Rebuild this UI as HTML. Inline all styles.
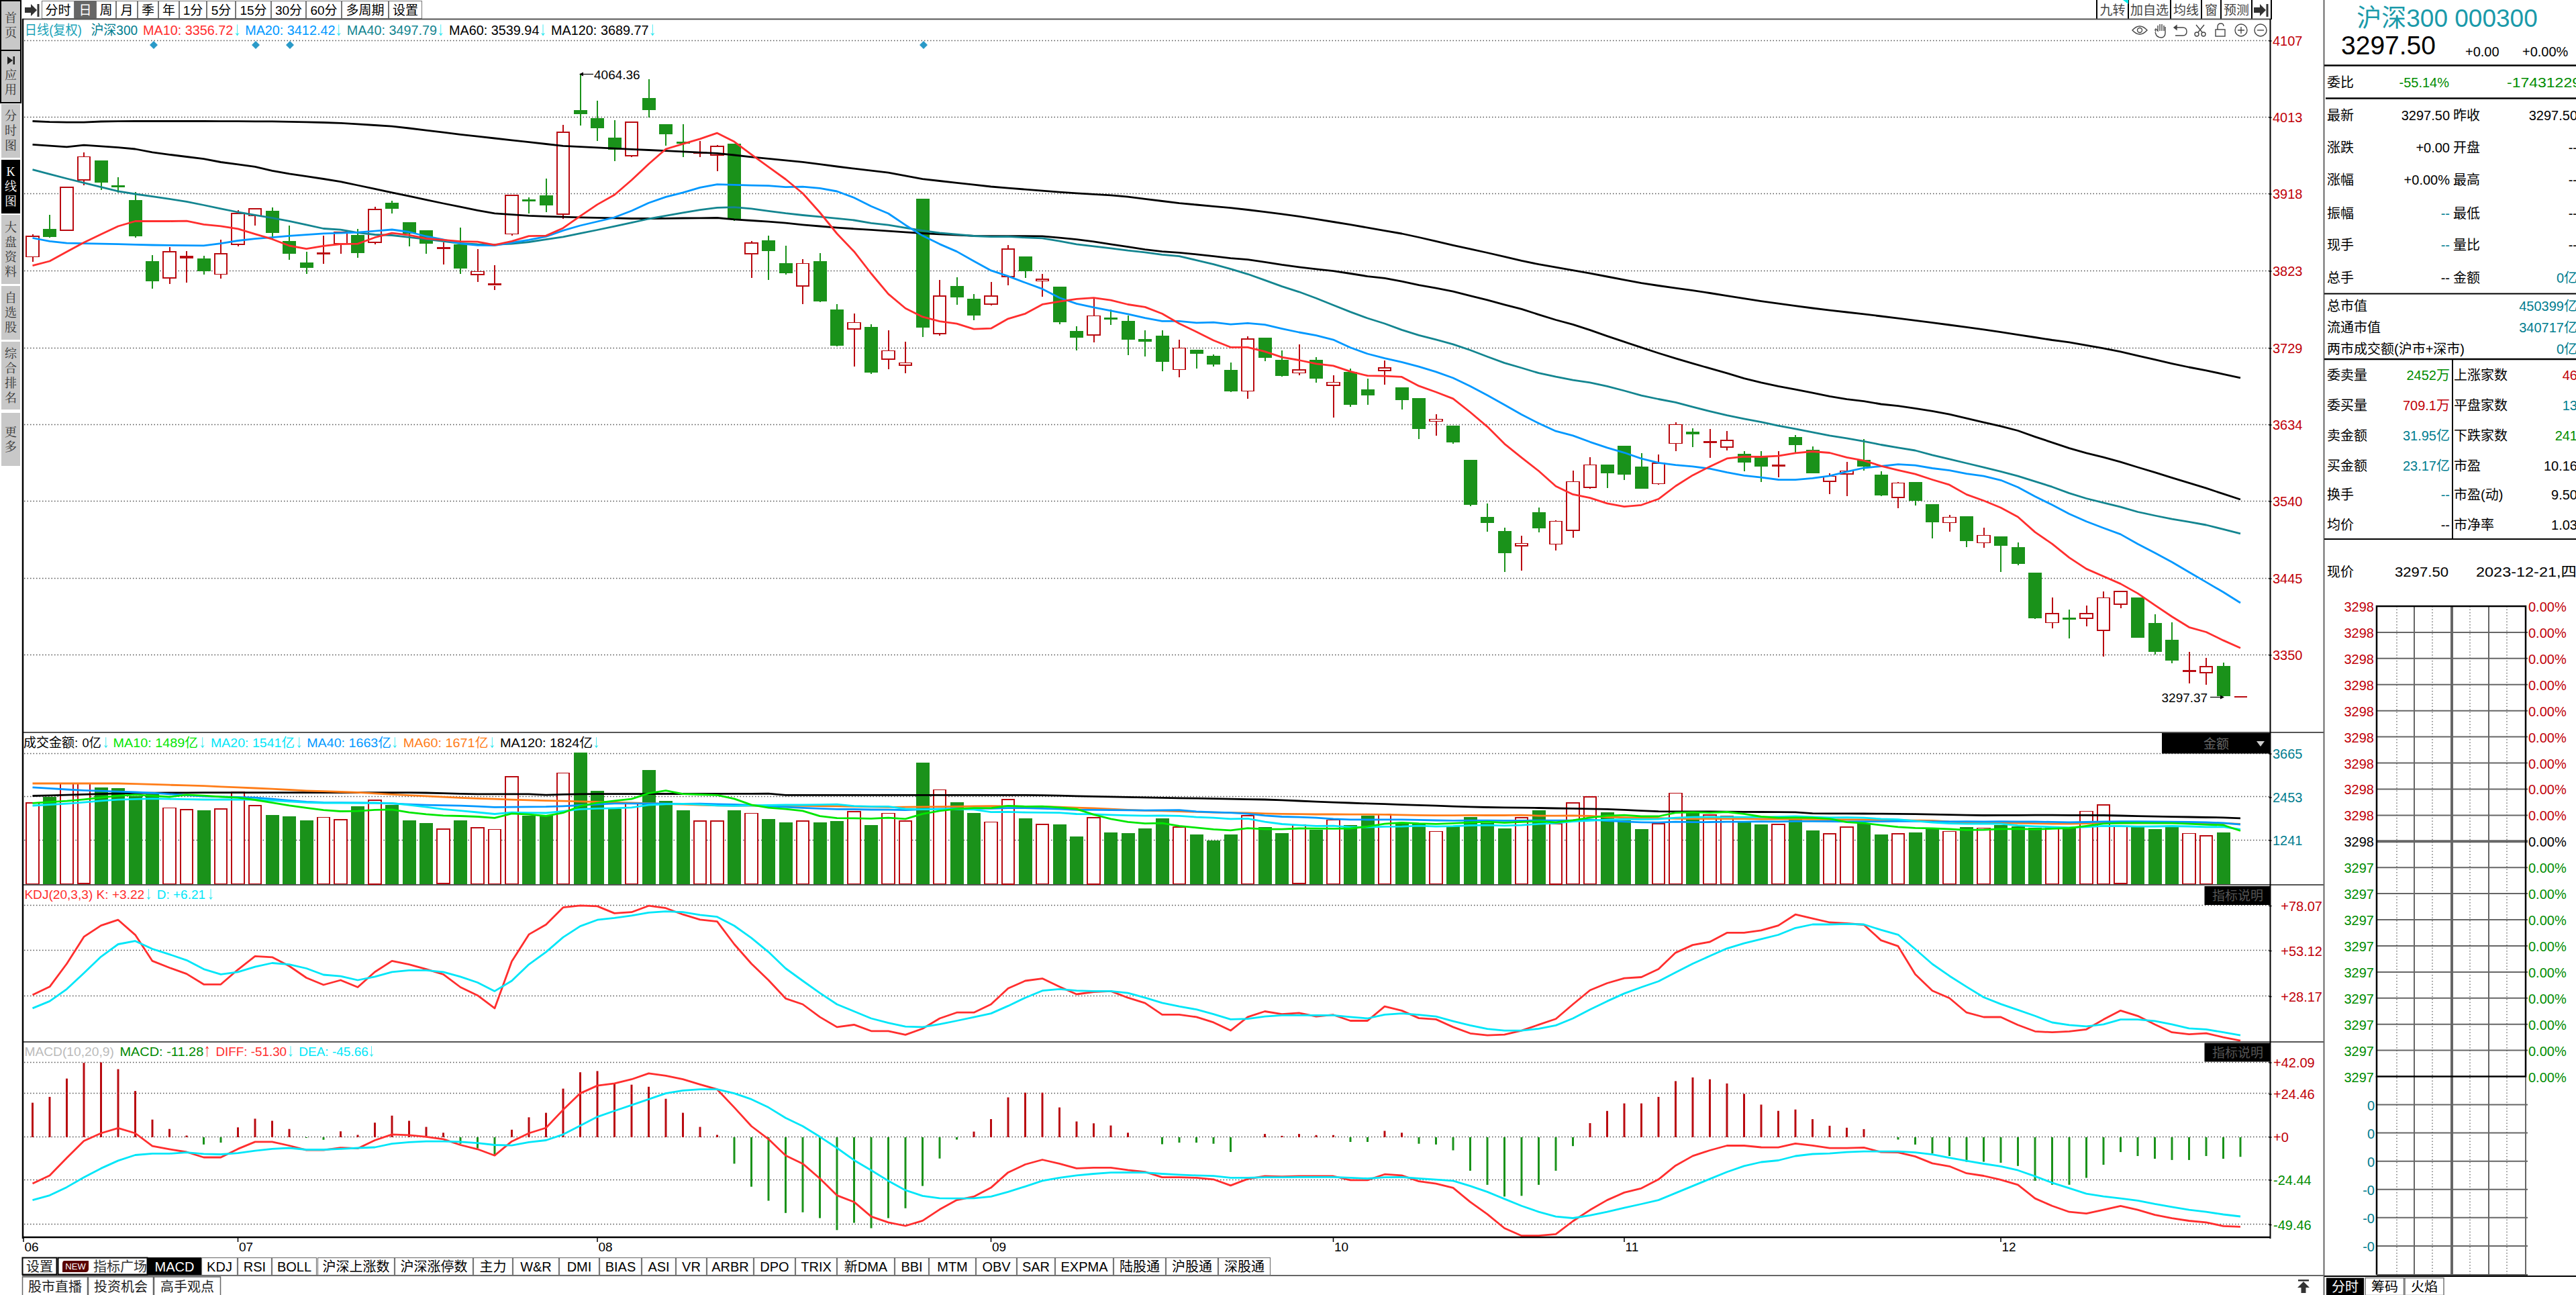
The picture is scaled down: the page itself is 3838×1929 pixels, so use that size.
<!DOCTYPE html><html><head><meta charset="utf-8"><title>沪深300 K线图</title><style>html,body{margin:0;padding:0;background:#fff;}body{width:3838px;height:1929px;overflow:hidden;}svg{display:block;}text{font-family:'Liberation Sans','Noto Sans CJK SC',sans-serif;white-space:pre;}</style></head><body>
<svg width="3838" height="1929" viewBox="0 0 3838 1929">
<rect x="0" y="0" width="3838" height="1929" fill="#fff" stroke="none" stroke-width="1"/>
<rect x="2" y="2" width="28" height="72" fill="#c8c8c8" stroke="none" stroke-width="1"/>
<text x="16" y="27" font-size="18" fill="#333" text-anchor="middle" dominant-baseline="central" style="font-family:'Liberation Serif','Noto Serif CJK SC',serif">首</text>
<text x="16" y="49" font-size="18" fill="#333" text-anchor="middle" dominant-baseline="central" style="font-family:'Liberation Serif','Noto Serif CJK SC',serif">页</text>
<rect x="2" y="76" width="28" height="76" fill="#c8c8c8" stroke="none" stroke-width="1"/>
<text x="16" y="112" font-size="18" fill="#333" text-anchor="middle" dominant-baseline="central" style="font-family:'Liberation Serif','Noto Serif CJK SC',serif">应</text>
<text x="16" y="134" font-size="18" fill="#333" text-anchor="middle" dominant-baseline="central" style="font-family:'Liberation Serif','Noto Serif CJK SC',serif">用</text>
<path d="M11,84 L19,90 L11,96 Z" fill="#222"/>
<rect x="19.5" y="84" width="2.5" height="12" fill="#222" stroke="none" stroke-width="1"/>
<rect x="1" y="1" width="30" height="152" fill="none" stroke="#000" stroke-width="2"/>
<line x1="1" y1="75" x2="31" y2="75" stroke="#000" stroke-width="2"/>
<rect x="2" y="155" width="28" height="80" fill="#c8c8c8" stroke="none" stroke-width="1"/>
<text x="16" y="173" font-size="18" fill="#333" text-anchor="middle" dominant-baseline="central" style="font-family:'Liberation Serif','Noto Serif CJK SC',serif">分</text>
<text x="16" y="195" font-size="18" fill="#333" text-anchor="middle" dominant-baseline="central" style="font-family:'Liberation Serif','Noto Serif CJK SC',serif">时</text>
<text x="16" y="217" font-size="18" fill="#333" text-anchor="middle" dominant-baseline="central" style="font-family:'Liberation Serif','Noto Serif CJK SC',serif">图</text>
<rect x="2" y="238" width="28" height="80" fill="#000" stroke="none" stroke-width="1"/>
<text x="16" y="256" font-size="18" fill="#fff" text-anchor="middle" dominant-baseline="central" style="font-family:'Liberation Serif','Noto Serif CJK SC',serif">K</text>
<text x="16" y="278" font-size="18" fill="#fff" text-anchor="middle" dominant-baseline="central" style="font-family:'Liberation Serif','Noto Serif CJK SC',serif">线</text>
<text x="16" y="300" font-size="18" fill="#fff" text-anchor="middle" dominant-baseline="central" style="font-family:'Liberation Serif','Noto Serif CJK SC',serif">图</text>
<rect x="2" y="320" width="28" height="103" fill="#c8c8c8" stroke="none" stroke-width="1"/>
<text x="16" y="338.5" font-size="18" fill="#333" text-anchor="middle" dominant-baseline="central" style="font-family:'Liberation Serif','Noto Serif CJK SC',serif">大</text>
<text x="16" y="360.5" font-size="18" fill="#333" text-anchor="middle" dominant-baseline="central" style="font-family:'Liberation Serif','Noto Serif CJK SC',serif">盘</text>
<text x="16" y="382.5" font-size="18" fill="#333" text-anchor="middle" dominant-baseline="central" style="font-family:'Liberation Serif','Noto Serif CJK SC',serif">资</text>
<text x="16" y="404.5" font-size="18" fill="#333" text-anchor="middle" dominant-baseline="central" style="font-family:'Liberation Serif','Noto Serif CJK SC',serif">料</text>
<rect x="2" y="426" width="28" height="80" fill="#c8c8c8" stroke="none" stroke-width="1"/>
<text x="16" y="444" font-size="18" fill="#333" text-anchor="middle" dominant-baseline="central" style="font-family:'Liberation Serif','Noto Serif CJK SC',serif">自</text>
<text x="16" y="466" font-size="18" fill="#333" text-anchor="middle" dominant-baseline="central" style="font-family:'Liberation Serif','Noto Serif CJK SC',serif">选</text>
<text x="16" y="488" font-size="18" fill="#333" text-anchor="middle" dominant-baseline="central" style="font-family:'Liberation Serif','Noto Serif CJK SC',serif">股</text>
<rect x="2" y="509" width="28" height="101" fill="#c8c8c8" stroke="none" stroke-width="1"/>
<text x="16" y="526.5" font-size="18" fill="#333" text-anchor="middle" dominant-baseline="central" style="font-family:'Liberation Serif','Noto Serif CJK SC',serif">综</text>
<text x="16" y="548.5" font-size="18" fill="#333" text-anchor="middle" dominant-baseline="central" style="font-family:'Liberation Serif','Noto Serif CJK SC',serif">合</text>
<text x="16" y="570.5" font-size="18" fill="#333" text-anchor="middle" dominant-baseline="central" style="font-family:'Liberation Serif','Noto Serif CJK SC',serif">排</text>
<text x="16" y="592.5" font-size="18" fill="#333" text-anchor="middle" dominant-baseline="central" style="font-family:'Liberation Serif','Noto Serif CJK SC',serif">名</text>
<rect x="2" y="615" width="28" height="79" fill="#c8c8c8" stroke="none" stroke-width="1"/>
<text x="16" y="643.5" font-size="18" fill="#333" text-anchor="middle" dominant-baseline="central" style="font-family:'Liberation Serif','Noto Serif CJK SC',serif">更</text>
<text x="16" y="665.5" font-size="18" fill="#333" text-anchor="middle" dominant-baseline="central" style="font-family:'Liberation Serif','Noto Serif CJK SC',serif">多</text>
<path d="M37,11 L46,11 L46,6 L55,15 L46,24 L46,19 L37,19 Z" fill="#333"/>
<rect x="55.5" y="6" width="3" height="19" fill="#333" stroke="none" stroke-width="1"/>
<rect x="62.5" y="1.5" width="48" height="26" fill="#fff" stroke="#777" stroke-width="1"/>
<text x="86.5" y="15" font-size="19" fill="#000" text-anchor="middle" dominant-baseline="central">分时</text>
<rect x="111" y="1" width="32" height="27" fill="#666" stroke="none" stroke-width="1"/>
<text x="127" y="15" font-size="19" fill="#fff" text-anchor="middle" dominant-baseline="central">日</text>
<rect x="143.5" y="1.5" width="29" height="26" fill="#fff" stroke="#777" stroke-width="1"/>
<text x="158" y="15" font-size="19" fill="#000" text-anchor="middle" dominant-baseline="central">周</text>
<rect x="173.5" y="1.5" width="31" height="26" fill="#fff" stroke="#777" stroke-width="1"/>
<text x="189" y="15" font-size="19" fill="#000" text-anchor="middle" dominant-baseline="central">月</text>
<rect x="205.5" y="1.5" width="30" height="26" fill="#fff" stroke="#777" stroke-width="1"/>
<text x="220.5" y="15" font-size="19" fill="#000" text-anchor="middle" dominant-baseline="central">季</text>
<rect x="236.5" y="1.5" width="30" height="26" fill="#fff" stroke="#777" stroke-width="1"/>
<text x="251.5" y="15" font-size="19" fill="#000" text-anchor="middle" dominant-baseline="central">年</text>
<rect x="267.5" y="1.5" width="40" height="26" fill="#fff" stroke="#777" stroke-width="1"/>
<text x="287.5" y="15" font-size="19" fill="#000" text-anchor="middle" dominant-baseline="central">1分</text>
<rect x="308.5" y="1.5" width="42" height="26" fill="#fff" stroke="#777" stroke-width="1"/>
<text x="329.5" y="15" font-size="19" fill="#000" text-anchor="middle" dominant-baseline="central">5分</text>
<rect x="351.5" y="1.5" width="52" height="26" fill="#fff" stroke="#777" stroke-width="1"/>
<text x="377.5" y="15" font-size="19" fill="#000" text-anchor="middle" dominant-baseline="central">15分</text>
<rect x="404.5" y="1.5" width="51" height="26" fill="#fff" stroke="#777" stroke-width="1"/>
<text x="430" y="15" font-size="19" fill="#000" text-anchor="middle" dominant-baseline="central">30分</text>
<rect x="456.5" y="1.5" width="52" height="26" fill="#fff" stroke="#777" stroke-width="1"/>
<text x="482.5" y="15" font-size="19" fill="#000" text-anchor="middle" dominant-baseline="central">60分</text>
<rect x="509.5" y="1.5" width="69" height="26" fill="#fff" stroke="#777" stroke-width="1"/>
<text x="544" y="15" font-size="19" fill="#000" text-anchor="middle" dominant-baseline="central">多周期</text>
<rect x="579.5" y="1.5" width="49" height="26" fill="#fff" stroke="#777" stroke-width="1"/>
<text x="604" y="15" font-size="19" fill="#000" text-anchor="middle" dominant-baseline="central">设置</text>
<text x="3147.5" y="15" font-size="19" fill="#444" text-anchor="middle" dominant-baseline="central">九转</text>
<text x="3202.5" y="15" font-size="19" fill="#444" text-anchor="middle" dominant-baseline="central">加自选</text>
<text x="3257" y="15" font-size="19" fill="#444" text-anchor="middle" dominant-baseline="central">均线</text>
<text x="3294.5" y="15" font-size="19" fill="#444" text-anchor="middle" dominant-baseline="central">窗</text>
<text x="3332" y="15" font-size="19" fill="#444" text-anchor="middle" dominant-baseline="central">预测</text>
<line x1="3124" y1="0" x2="3124" y2="29" stroke="#000" stroke-width="2"/>
<line x1="3171" y1="0" x2="3171" y2="29" stroke="#000" stroke-width="2"/>
<line x1="3234" y1="0" x2="3234" y2="29" stroke="#000" stroke-width="2"/>
<line x1="3280" y1="0" x2="3280" y2="29" stroke="#000" stroke-width="2"/>
<line x1="3309" y1="0" x2="3309" y2="29" stroke="#000" stroke-width="2"/>
<line x1="3355" y1="0" x2="3355" y2="29" stroke="#000" stroke-width="2"/>
<line x1="3384" y1="0" x2="3384" y2="29" stroke="#000" stroke-width="2"/>
<path d="M3163,0 L3171,0 L3171,6 Z" fill="#00e8e8"/>
<path d="M3358,11 L3367,11 L3367,6 L3376,15 L3367,24 L3367,19 L3358,19 Z" fill="#333"/>
<rect x="3376.5" y="6" width="3" height="19" fill="#333" stroke="none" stroke-width="1"/>
<line x1="33" y1="28.5" x2="3383" y2="28.5" stroke="#555" stroke-width="2"/>
<line x1="36" y1="60.5" x2="3381" y2="60.5" stroke="#555" stroke-width="1.3" stroke-dasharray="1.5 3"/>
<line x1="36" y1="174.5" x2="3381" y2="174.5" stroke="#555" stroke-width="1.3" stroke-dasharray="1.5 3"/>
<line x1="36" y1="288.5" x2="3381" y2="288.5" stroke="#555" stroke-width="1.3" stroke-dasharray="1.5 3"/>
<line x1="36" y1="403.5" x2="3381" y2="403.5" stroke="#555" stroke-width="1.3" stroke-dasharray="1.5 3"/>
<line x1="36" y1="518.5" x2="3381" y2="518.5" stroke="#555" stroke-width="1.3" stroke-dasharray="1.5 3"/>
<line x1="36" y1="632.5" x2="3381" y2="632.5" stroke="#555" stroke-width="1.3" stroke-dasharray="1.5 3"/>
<line x1="36" y1="746.5" x2="3381" y2="746.5" stroke="#555" stroke-width="1.3" stroke-dasharray="1.5 3"/>
<line x1="36" y1="861.5" x2="3381" y2="861.5" stroke="#555" stroke-width="1.3" stroke-dasharray="1.5 3"/>
<line x1="36" y1="975.5" x2="3381" y2="975.5" stroke="#555" stroke-width="1.3" stroke-dasharray="1.5 3"/>
<line x1="36" y1="1122.5" x2="3381" y2="1122.5" stroke="#555" stroke-width="1.3" stroke-dasharray="1.5 3"/>
<line x1="36" y1="1186.5" x2="3381" y2="1186.5" stroke="#555" stroke-width="1.3" stroke-dasharray="1.5 3"/>
<line x1="36" y1="1251.5" x2="3381" y2="1251.5" stroke="#555" stroke-width="1.3" stroke-dasharray="1.5 3"/>
<line x1="36" y1="1348.5" x2="3381" y2="1348.5" stroke="#555" stroke-width="1.3" stroke-dasharray="1.5 3"/>
<line x1="36" y1="1415.5" x2="3381" y2="1415.5" stroke="#555" stroke-width="1.3" stroke-dasharray="1.5 3"/>
<line x1="36" y1="1483.5" x2="3381" y2="1483.5" stroke="#555" stroke-width="1.3" stroke-dasharray="1.5 3"/>
<line x1="36" y1="1582.5" x2="3381" y2="1582.5" stroke="#555" stroke-width="1.3" stroke-dasharray="1.5 3"/>
<line x1="36" y1="1628.5" x2="3381" y2="1628.5" stroke="#555" stroke-width="1.3" stroke-dasharray="1.5 3"/>
<line x1="36" y1="1693.5" x2="3381" y2="1693.5" stroke="#555" stroke-width="1.3" stroke-dasharray="1.5 3"/>
<line x1="36" y1="1757.5" x2="3381" y2="1757.5" stroke="#555" stroke-width="1.3" stroke-dasharray="1.5 3"/>
<line x1="36" y1="1823.5" x2="3381" y2="1823.5" stroke="#555" stroke-width="1.3" stroke-dasharray="1.5 3"/>
<line x1="35" y1="1091" x2="3462" y2="1091" stroke="#555" stroke-width="2"/>
<line x1="35" y1="1318" x2="3462" y2="1318" stroke="#555" stroke-width="2"/>
<line x1="35" y1="1552" x2="3462" y2="1552" stroke="#555" stroke-width="2"/>
<g shape-rendering="crispEdges">
<line x1="48.5" y1="348.5" x2="48.5" y2="350.8" stroke="#b90a10" stroke-width="2"/>
<line x1="48.5" y1="383.2" x2="48.5" y2="389.7" stroke="#b90a10" stroke-width="2"/>
<rect x="39.2" y="351.6" width="18.5" height="30.9" fill="#fff" stroke="#b90a10" stroke-width="1.8"/>
<line x1="74" y1="320.2" x2="74" y2="341.1" stroke="#1a921a" stroke-width="2"/>
<line x1="74" y1="352.7" x2="74" y2="354.3" stroke="#1a921a" stroke-width="2"/>
<rect x="64" y="341.1" width="20" height="11.6" fill="#1a921a" stroke="none" stroke-width="1"/>
<line x1="99.5" y1="343.4" x2="99.5" y2="344.3" stroke="#b90a10" stroke-width="2"/>
<rect x="90.2" y="278.6" width="18.5" height="64.1" fill="#fff" stroke="#b90a10" stroke-width="1.8"/>
<line x1="125" y1="227.1" x2="125" y2="232.7" stroke="#b90a10" stroke-width="2"/>
<line x1="125" y1="269" x2="125" y2="275.5" stroke="#b90a10" stroke-width="2"/>
<rect x="115.8" y="233.4" width="18.5" height="34.8" fill="#fff" stroke="#b90a10" stroke-width="1.8"/>
<line x1="150.5" y1="271.6" x2="150.5" y2="282.5" stroke="#1a921a" stroke-width="2"/>
<rect x="140.5" y="239.1" width="20" height="32.5" fill="#1a921a" stroke="none" stroke-width="1"/>
<line x1="176" y1="264.4" x2="176" y2="277" stroke="#1a921a" stroke-width="2"/>
<line x1="176" y1="278.6" x2="176" y2="287.1" stroke="#1a921a" stroke-width="2"/>
<rect x="166" y="276.3" width="20" height="3" fill="#1a921a" stroke="none" stroke-width="1"/>
<line x1="201.5" y1="285.5" x2="201.5" y2="298.2" stroke="#1a921a" stroke-width="2"/>
<line x1="201.5" y1="352.4" x2="201.5" y2="353.6" stroke="#1a921a" stroke-width="2"/>
<rect x="191.5" y="298.2" width="20" height="54.2" fill="#1a921a" stroke="none" stroke-width="1"/>
<line x1="227" y1="380.2" x2="227" y2="389" stroke="#1a921a" stroke-width="2"/>
<line x1="227" y1="418.7" x2="227" y2="429.6" stroke="#1a921a" stroke-width="2"/>
<rect x="217" y="389" width="20" height="29.7" fill="#1a921a" stroke="none" stroke-width="1"/>
<line x1="252.5" y1="368.2" x2="252.5" y2="374.4" stroke="#b90a10" stroke-width="2"/>
<line x1="252.5" y1="415.2" x2="252.5" y2="422.6" stroke="#b90a10" stroke-width="2"/>
<rect x="243.2" y="375.1" width="18.5" height="39.3" fill="#fff" stroke="#b90a10" stroke-width="1.8"/>
<line x1="278" y1="374" x2="278" y2="380.9" stroke="#b90a10" stroke-width="2"/>
<line x1="278" y1="384.9" x2="278" y2="420.8" stroke="#b90a10" stroke-width="2"/>
<rect x="268.8" y="381.6" width="18.5" height="2.5" fill="#fff" stroke="#b90a10" stroke-width="1.8"/>
<line x1="303.5" y1="380.9" x2="303.5" y2="385.1" stroke="#1a921a" stroke-width="2"/>
<line x1="303.5" y1="404.1" x2="303.5" y2="408.7" stroke="#1a921a" stroke-width="2"/>
<rect x="293.5" y="385.1" width="20" height="19" fill="#1a921a" stroke="none" stroke-width="1"/>
<line x1="329" y1="357.1" x2="329" y2="377.5" stroke="#b90a10" stroke-width="2"/>
<line x1="329" y1="409.2" x2="329" y2="415" stroke="#b90a10" stroke-width="2"/>
<rect x="319.8" y="378.2" width="18.5" height="30.2" fill="#fff" stroke="#b90a10" stroke-width="1.8"/>
<line x1="354.5" y1="312.6" x2="354.5" y2="317.7" stroke="#b90a10" stroke-width="2"/>
<line x1="354.5" y1="365.2" x2="354.5" y2="366.6" stroke="#b90a10" stroke-width="2"/>
<rect x="345.2" y="318.4" width="18.5" height="46" fill="#fff" stroke="#b90a10" stroke-width="1.8"/>
<line x1="380" y1="309.8" x2="380" y2="310.7" stroke="#b90a10" stroke-width="2"/>
<line x1="380" y1="322.3" x2="380" y2="335.8" stroke="#b90a10" stroke-width="2"/>
<rect x="370.8" y="311.4" width="18.5" height="10.1" fill="#fff" stroke="#b90a10" stroke-width="1.8"/>
<line x1="405.5" y1="309.1" x2="405.5" y2="314.2" stroke="#1a921a" stroke-width="2"/>
<line x1="405.5" y1="346.6" x2="405.5" y2="356.6" stroke="#1a921a" stroke-width="2"/>
<rect x="395.5" y="314.2" width="20" height="32.4" fill="#1a921a" stroke="none" stroke-width="1"/>
<line x1="431" y1="336.4" x2="431" y2="358.9" stroke="#1a921a" stroke-width="2"/>
<line x1="431" y1="377.5" x2="431" y2="386.7" stroke="#1a921a" stroke-width="2"/>
<rect x="421" y="358.9" width="20" height="18.6" fill="#1a921a" stroke="none" stroke-width="1"/>
<line x1="456.5" y1="375.4" x2="456.5" y2="391.3" stroke="#1a921a" stroke-width="2"/>
<line x1="456.5" y1="398.6" x2="456.5" y2="407.7" stroke="#1a921a" stroke-width="2"/>
<rect x="446.5" y="391.3" width="20" height="7.3" fill="#1a921a" stroke="none" stroke-width="1"/>
<line x1="482" y1="351.4" x2="482" y2="376.5" stroke="#b90a10" stroke-width="2"/>
<line x1="482" y1="379.2" x2="482" y2="392.7" stroke="#b90a10" stroke-width="2"/>
<rect x="472" y="376.4" width="20" height="3" fill="#b90a10" stroke="none" stroke-width="1"/>
<line x1="507.5" y1="363.5" x2="507.5" y2="377.7" stroke="#b90a10" stroke-width="2"/>
<rect x="498.2" y="345.6" width="18.5" height="17.2" fill="#fff" stroke="#b90a10" stroke-width="1.8"/>
<line x1="533" y1="341.2" x2="533" y2="350" stroke="#1a921a" stroke-width="2"/>
<line x1="533" y1="376.7" x2="533" y2="383.8" stroke="#1a921a" stroke-width="2"/>
<rect x="523" y="350" width="20" height="26.7" fill="#1a921a" stroke="none" stroke-width="1"/>
<line x1="558.5" y1="308.3" x2="558.5" y2="310.8" stroke="#b90a10" stroke-width="2"/>
<line x1="558.5" y1="362" x2="558.5" y2="363.5" stroke="#b90a10" stroke-width="2"/>
<rect x="549.2" y="311.6" width="18.5" height="49.7" fill="#fff" stroke="#b90a10" stroke-width="1.8"/>
<line x1="584" y1="299.3" x2="584" y2="302.4" stroke="#1a921a" stroke-width="2"/>
<line x1="584" y1="310.8" x2="584" y2="317.6" stroke="#1a921a" stroke-width="2"/>
<rect x="574" y="302.4" width="20" height="8.4" fill="#1a921a" stroke="none" stroke-width="1"/>
<line x1="609.5" y1="347.9" x2="609.5" y2="367" stroke="#1a921a" stroke-width="2"/>
<rect x="599.5" y="331.2" width="20" height="16.7" fill="#1a921a" stroke="none" stroke-width="1"/>
<line x1="635" y1="362.9" x2="635" y2="377.7" stroke="#1a921a" stroke-width="2"/>
<rect x="625" y="343.3" width="20" height="19.6" fill="#1a921a" stroke="none" stroke-width="1"/>
<line x1="660.5" y1="361.4" x2="660.5" y2="367.7" stroke="#b90a10" stroke-width="2"/>
<line x1="660.5" y1="370.8" x2="660.5" y2="393.8" stroke="#b90a10" stroke-width="2"/>
<rect x="650.5" y="367.8" width="20" height="3" fill="#b90a10" stroke="none" stroke-width="1"/>
<line x1="686" y1="339.1" x2="686" y2="363.5" stroke="#1a921a" stroke-width="2"/>
<line x1="686" y1="400.4" x2="686" y2="407.7" stroke="#1a921a" stroke-width="2"/>
<rect x="676" y="363.5" width="20" height="36.9" fill="#1a921a" stroke="none" stroke-width="1"/>
<line x1="711.5" y1="371.2" x2="711.5" y2="403.6" stroke="#b90a10" stroke-width="2"/>
<line x1="711.5" y1="409.4" x2="711.5" y2="419.8" stroke="#b90a10" stroke-width="2"/>
<rect x="702.2" y="404.4" width="18.5" height="4.3" fill="#fff" stroke="#b90a10" stroke-width="1.8"/>
<line x1="737" y1="395.2" x2="737" y2="422.3" stroke="#b90a10" stroke-width="2"/>
<line x1="737" y1="425.5" x2="737" y2="431.7" stroke="#b90a10" stroke-width="2"/>
<rect x="727" y="422.4" width="20" height="3" fill="#b90a10" stroke="none" stroke-width="1"/>
<line x1="762.5" y1="349.3" x2="762.5" y2="350.6" stroke="#b90a10" stroke-width="2"/>
<rect x="753.2" y="291.2" width="18.5" height="57.3" fill="#fff" stroke="#b90a10" stroke-width="1.8"/>
<line x1="788" y1="293.7" x2="788" y2="298" stroke="#1a921a" stroke-width="2"/>
<line x1="788" y1="299.8" x2="788" y2="317.6" stroke="#1a921a" stroke-width="2"/>
<rect x="778" y="297.4" width="20" height="3" fill="#1a921a" stroke="none" stroke-width="1"/>
<line x1="813.5" y1="266.1" x2="813.5" y2="290.5" stroke="#1a921a" stroke-width="2"/>
<line x1="813.5" y1="305.5" x2="813.5" y2="315.6" stroke="#1a921a" stroke-width="2"/>
<rect x="803.5" y="290.5" width="20" height="15" fill="#1a921a" stroke="none" stroke-width="1"/>
<line x1="839" y1="186.2" x2="839" y2="196.5" stroke="#b90a10" stroke-width="2"/>
<line x1="839" y1="320.2" x2="839" y2="326.4" stroke="#b90a10" stroke-width="2"/>
<rect x="829.8" y="197.2" width="18.5" height="122.2" fill="#fff" stroke="#b90a10" stroke-width="1.8"/>
<line x1="864.5" y1="110.3" x2="864.5" y2="164.2" stroke="#1a921a" stroke-width="2"/>
<line x1="864.5" y1="169.7" x2="864.5" y2="186.9" stroke="#1a921a" stroke-width="2"/>
<rect x="854.5" y="164.2" width="20" height="5.5" fill="#1a921a" stroke="none" stroke-width="1"/>
<line x1="890" y1="150.3" x2="890" y2="176.2" stroke="#1a921a" stroke-width="2"/>
<line x1="890" y1="190.5" x2="890" y2="209.7" stroke="#1a921a" stroke-width="2"/>
<rect x="880" y="176.2" width="20" height="14.3" fill="#1a921a" stroke="none" stroke-width="1"/>
<line x1="915.5" y1="179.3" x2="915.5" y2="205.3" stroke="#1a921a" stroke-width="2"/>
<line x1="915.5" y1="223.3" x2="915.5" y2="239.6" stroke="#1a921a" stroke-width="2"/>
<rect x="905.5" y="205.3" width="20" height="18" fill="#1a921a" stroke="none" stroke-width="1"/>
<line x1="941" y1="233.1" x2="941" y2="234.3" stroke="#b90a10" stroke-width="2"/>
<rect x="931.8" y="182.2" width="18.5" height="50.2" fill="#fff" stroke="#b90a10" stroke-width="1.8"/>
<line x1="966.5" y1="117.5" x2="966.5" y2="146.2" stroke="#1a921a" stroke-width="2"/>
<line x1="966.5" y1="163.5" x2="966.5" y2="174.5" stroke="#1a921a" stroke-width="2"/>
<rect x="956.5" y="146.2" width="20" height="17.3" fill="#1a921a" stroke="none" stroke-width="1"/>
<line x1="992" y1="199.6" x2="992" y2="216.8" stroke="#1a921a" stroke-width="2"/>
<rect x="982" y="184.5" width="20" height="15.1" fill="#1a921a" stroke="none" stroke-width="1"/>
<line x1="1017.5" y1="185.2" x2="1017.5" y2="211" stroke="#1a921a" stroke-width="2"/>
<line x1="1017.5" y1="213" x2="1017.5" y2="233.6" stroke="#1a921a" stroke-width="2"/>
<rect x="1007.5" y="210.5" width="20" height="3" fill="#1a921a" stroke="none" stroke-width="1"/>
<line x1="1043" y1="210.4" x2="1043" y2="226.5" stroke="#b90a10" stroke-width="2"/>
<line x1="1043" y1="228.5" x2="1043" y2="234.3" stroke="#b90a10" stroke-width="2"/>
<rect x="1033" y="226" width="20" height="3" fill="#b90a10" stroke="none" stroke-width="1"/>
<line x1="1068.5" y1="216.1" x2="1068.5" y2="217.6" stroke="#b90a10" stroke-width="2"/>
<line x1="1068.5" y1="231.9" x2="1068.5" y2="254.6" stroke="#b90a10" stroke-width="2"/>
<rect x="1059.2" y="218.3" width="18.5" height="12.8" fill="#fff" stroke="#b90a10" stroke-width="1.8"/>
<line x1="1094" y1="325.7" x2="1094" y2="328.8" stroke="#1a921a" stroke-width="2"/>
<rect x="1084" y="214" width="20" height="111.7" fill="#1a921a" stroke="none" stroke-width="1"/>
<line x1="1119.5" y1="359.3" x2="1119.5" y2="361.3" stroke="#b90a10" stroke-width="2"/>
<line x1="1119.5" y1="379.1" x2="1119.5" y2="413.7" stroke="#b90a10" stroke-width="2"/>
<rect x="1110.2" y="362.1" width="18.5" height="16.3" fill="#fff" stroke="#b90a10" stroke-width="1.8"/>
<line x1="1145" y1="351" x2="1145" y2="358.1" stroke="#1a921a" stroke-width="2"/>
<line x1="1145" y1="373.7" x2="1145" y2="416.7" stroke="#1a921a" stroke-width="2"/>
<rect x="1135" y="358.1" width="20" height="15.6" fill="#1a921a" stroke="none" stroke-width="1"/>
<line x1="1170.5" y1="366.1" x2="1170.5" y2="392.2" stroke="#1a921a" stroke-width="2"/>
<line x1="1170.5" y1="407.4" x2="1170.5" y2="408.6" stroke="#1a921a" stroke-width="2"/>
<rect x="1160.5" y="392.2" width="20" height="15.2" fill="#1a921a" stroke="none" stroke-width="1"/>
<line x1="1196" y1="386.3" x2="1196" y2="391.6" stroke="#b90a10" stroke-width="2"/>
<line x1="1196" y1="427.1" x2="1196" y2="452.6" stroke="#b90a10" stroke-width="2"/>
<rect x="1186.8" y="392.4" width="18.5" height="34" fill="#fff" stroke="#b90a10" stroke-width="1.8"/>
<line x1="1221.5" y1="377" x2="1221.5" y2="389.2" stroke="#1a921a" stroke-width="2"/>
<line x1="1221.5" y1="448.6" x2="1221.5" y2="449.6" stroke="#1a921a" stroke-width="2"/>
<rect x="1211.5" y="389.2" width="20" height="59.4" fill="#1a921a" stroke="none" stroke-width="1"/>
<line x1="1247" y1="452.6" x2="1247" y2="461.2" stroke="#1a921a" stroke-width="2"/>
<line x1="1247" y1="514.7" x2="1247" y2="515.6" stroke="#1a921a" stroke-width="2"/>
<rect x="1237" y="461.2" width="20" height="53.5" fill="#1a921a" stroke="none" stroke-width="1"/>
<line x1="1272.5" y1="467.2" x2="1272.5" y2="479.7" stroke="#b90a10" stroke-width="2"/>
<line x1="1272.5" y1="490.8" x2="1272.5" y2="545.7" stroke="#b90a10" stroke-width="2"/>
<rect x="1263.2" y="480.4" width="18.5" height="9.6" fill="#fff" stroke="#b90a10" stroke-width="1.8"/>
<line x1="1298" y1="483.4" x2="1298" y2="487.3" stroke="#1a921a" stroke-width="2"/>
<line x1="1298" y1="554.5" x2="1298" y2="557.3" stroke="#1a921a" stroke-width="2"/>
<rect x="1288" y="487.3" width="20" height="67.2" fill="#1a921a" stroke="none" stroke-width="1"/>
<line x1="1323.5" y1="492" x2="1323.5" y2="521.6" stroke="#b90a10" stroke-width="2"/>
<line x1="1323.5" y1="536" x2="1323.5" y2="549.9" stroke="#b90a10" stroke-width="2"/>
<rect x="1314.2" y="522.4" width="18.5" height="12.9" fill="#fff" stroke="#b90a10" stroke-width="1.8"/>
<line x1="1349" y1="509.3" x2="1349" y2="539.9" stroke="#b90a10" stroke-width="2"/>
<line x1="1349" y1="544.8" x2="1349" y2="555.7" stroke="#b90a10" stroke-width="2"/>
<rect x="1339.8" y="540.6" width="18.5" height="3.4" fill="#fff" stroke="#b90a10" stroke-width="1.8"/>
<line x1="1374.5" y1="487.8" x2="1374.5" y2="501.7" stroke="#1a921a" stroke-width="2"/>
<rect x="1364.5" y="295.5" width="20" height="192.3" fill="#1a921a" stroke="none" stroke-width="1"/>
<line x1="1400" y1="417.4" x2="1400" y2="440.3" stroke="#b90a10" stroke-width="2"/>
<line x1="1400" y1="497.3" x2="1400" y2="500.1" stroke="#b90a10" stroke-width="2"/>
<rect x="1390.8" y="441.1" width="18.5" height="55.5" fill="#fff" stroke="#b90a10" stroke-width="1.8"/>
<line x1="1425.5" y1="413.2" x2="1425.5" y2="425.5" stroke="#1a921a" stroke-width="2"/>
<line x1="1425.5" y1="443.3" x2="1425.5" y2="453.7" stroke="#1a921a" stroke-width="2"/>
<rect x="1415.5" y="425.5" width="20" height="17.8" fill="#1a921a" stroke="none" stroke-width="1"/>
<line x1="1451" y1="437.5" x2="1451" y2="445.4" stroke="#1a921a" stroke-width="2"/>
<line x1="1451" y1="470.4" x2="1451" y2="476.9" stroke="#1a921a" stroke-width="2"/>
<rect x="1441" y="445.4" width="20" height="25" fill="#1a921a" stroke="none" stroke-width="1"/>
<line x1="1476.5" y1="420.2" x2="1476.5" y2="439.8" stroke="#b90a10" stroke-width="2"/>
<line x1="1476.5" y1="453.7" x2="1476.5" y2="455.4" stroke="#b90a10" stroke-width="2"/>
<rect x="1467.2" y="440.6" width="18.5" height="12.4" fill="#fff" stroke="#b90a10" stroke-width="1.8"/>
<line x1="1502" y1="365.1" x2="1502" y2="370.7" stroke="#b90a10" stroke-width="2"/>
<line x1="1502" y1="413.1" x2="1502" y2="425.4" stroke="#b90a10" stroke-width="2"/>
<rect x="1492.8" y="371.4" width="18.5" height="40.9" fill="#fff" stroke="#b90a10" stroke-width="1.8"/>
<line x1="1527.5" y1="404.4" x2="1527.5" y2="413.7" stroke="#1a921a" stroke-width="2"/>
<rect x="1517.5" y="382.4" width="20" height="22" fill="#1a921a" stroke="none" stroke-width="1"/>
<line x1="1553" y1="408.3" x2="1553" y2="415.3" stroke="#b90a10" stroke-width="2"/>
<line x1="1553" y1="419.2" x2="1553" y2="441.5" stroke="#b90a10" stroke-width="2"/>
<rect x="1543.8" y="416.1" width="18.5" height="2.4" fill="#fff" stroke="#b90a10" stroke-width="1.8"/>
<line x1="1578.5" y1="479.7" x2="1578.5" y2="482.5" stroke="#1a921a" stroke-width="2"/>
<rect x="1568.5" y="427.3" width="20" height="52.4" fill="#1a921a" stroke="none" stroke-width="1"/>
<line x1="1604" y1="486.4" x2="1604" y2="493.4" stroke="#1a921a" stroke-width="2"/>
<line x1="1604" y1="502.6" x2="1604" y2="521.9" stroke="#1a921a" stroke-width="2"/>
<rect x="1594" y="493.4" width="20" height="9.2" fill="#1a921a" stroke="none" stroke-width="1"/>
<line x1="1629.5" y1="445.4" x2="1629.5" y2="469.7" stroke="#b90a10" stroke-width="2"/>
<line x1="1629.5" y1="499.8" x2="1629.5" y2="509.8" stroke="#b90a10" stroke-width="2"/>
<rect x="1620.2" y="470.4" width="18.5" height="28.6" fill="#fff" stroke="#b90a10" stroke-width="1.8"/>
<line x1="1655" y1="461.2" x2="1655" y2="472.5" stroke="#1a921a" stroke-width="2"/>
<line x1="1655" y1="476.2" x2="1655" y2="483.6" stroke="#1a921a" stroke-width="2"/>
<rect x="1645" y="472.5" width="20" height="3.7" fill="#1a921a" stroke="none" stroke-width="1"/>
<line x1="1680.5" y1="469.7" x2="1680.5" y2="478.3" stroke="#1a921a" stroke-width="2"/>
<line x1="1680.5" y1="506.3" x2="1680.5" y2="528.8" stroke="#1a921a" stroke-width="2"/>
<rect x="1670.5" y="478.3" width="20" height="28" fill="#1a921a" stroke="none" stroke-width="1"/>
<line x1="1706" y1="492.2" x2="1706" y2="505.2" stroke="#1a921a" stroke-width="2"/>
<line x1="1706" y1="509.1" x2="1706" y2="531.1" stroke="#1a921a" stroke-width="2"/>
<rect x="1696" y="505.2" width="20" height="3.9" fill="#1a921a" stroke="none" stroke-width="1"/>
<line x1="1731.5" y1="492.2" x2="1731.5" y2="499.8" stroke="#1a921a" stroke-width="2"/>
<line x1="1731.5" y1="539.2" x2="1731.5" y2="552.7" stroke="#1a921a" stroke-width="2"/>
<rect x="1721.5" y="499.8" width="20" height="39.4" fill="#1a921a" stroke="none" stroke-width="1"/>
<line x1="1757" y1="506.1" x2="1757" y2="517.7" stroke="#b90a10" stroke-width="2"/>
<line x1="1757" y1="551.3" x2="1757" y2="561.7" stroke="#b90a10" stroke-width="2"/>
<rect x="1747.8" y="518.5" width="18.5" height="32.1" fill="#fff" stroke="#b90a10" stroke-width="1.8"/>
<line x1="1782.5" y1="526.5" x2="1782.5" y2="549" stroke="#1a921a" stroke-width="2"/>
<rect x="1772.5" y="521.4" width="20" height="5.1" fill="#1a921a" stroke="none" stroke-width="1"/>
<line x1="1808" y1="528.1" x2="1808" y2="530.4" stroke="#1a921a" stroke-width="2"/>
<line x1="1808" y1="542.7" x2="1808" y2="545.7" stroke="#1a921a" stroke-width="2"/>
<rect x="1798" y="530.4" width="20" height="12.3" fill="#1a921a" stroke="none" stroke-width="1"/>
<line x1="1833.5" y1="539.9" x2="1833.5" y2="551.3" stroke="#1a921a" stroke-width="2"/>
<line x1="1833.5" y1="583.2" x2="1833.5" y2="584.4" stroke="#1a921a" stroke-width="2"/>
<rect x="1823.5" y="551.3" width="20" height="31.9" fill="#1a921a" stroke="none" stroke-width="1"/>
<line x1="1859" y1="501" x2="1859" y2="503.8" stroke="#b90a10" stroke-width="2"/>
<line x1="1859" y1="583.2" x2="1859" y2="593.7" stroke="#b90a10" stroke-width="2"/>
<rect x="1849.8" y="504.6" width="18.5" height="77.9" fill="#fff" stroke="#b90a10" stroke-width="1.8"/>
<line x1="1884.5" y1="532.5" x2="1884.5" y2="537.7" stroke="#1a921a" stroke-width="2"/>
<rect x="1874.5" y="503.2" width="20" height="29.3" fill="#1a921a" stroke="none" stroke-width="1"/>
<line x1="1910" y1="522.3" x2="1910" y2="536.1" stroke="#1a921a" stroke-width="2"/>
<line x1="1910" y1="559.8" x2="1910" y2="560.5" stroke="#1a921a" stroke-width="2"/>
<rect x="1900" y="536.1" width="20" height="23.7" fill="#1a921a" stroke="none" stroke-width="1"/>
<line x1="1935.5" y1="513.4" x2="1935.5" y2="550.5" stroke="#b90a10" stroke-width="2"/>
<line x1="1935.5" y1="556.3" x2="1935.5" y2="558.6" stroke="#b90a10" stroke-width="2"/>
<rect x="1926.2" y="551.2" width="18.5" height="4.3" fill="#fff" stroke="#b90a10" stroke-width="1.8"/>
<line x1="1961" y1="531.5" x2="1961" y2="536.1" stroke="#1a921a" stroke-width="2"/>
<line x1="1961" y1="563.5" x2="1961" y2="569.7" stroke="#1a921a" stroke-width="2"/>
<rect x="1951" y="536.1" width="20" height="27.4" fill="#1a921a" stroke="none" stroke-width="1"/>
<line x1="1986.5" y1="558.6" x2="1986.5" y2="568.8" stroke="#b90a10" stroke-width="2"/>
<line x1="1986.5" y1="575" x2="1986.5" y2="621.9" stroke="#b90a10" stroke-width="2"/>
<rect x="1977.2" y="569.5" width="18.5" height="4.7" fill="#fff" stroke="#b90a10" stroke-width="1.8"/>
<line x1="2012" y1="549.3" x2="2012" y2="554.2" stroke="#1a921a" stroke-width="2"/>
<line x1="2012" y1="602.6" x2="2012" y2="605.6" stroke="#1a921a" stroke-width="2"/>
<rect x="2002" y="554.2" width="20" height="48.4" fill="#1a921a" stroke="none" stroke-width="1"/>
<line x1="2037.5" y1="564.4" x2="2037.5" y2="580.2" stroke="#1a921a" stroke-width="2"/>
<line x1="2037.5" y1="589.4" x2="2037.5" y2="602.6" stroke="#1a921a" stroke-width="2"/>
<rect x="2027.5" y="580.2" width="20" height="9.2" fill="#1a921a" stroke="none" stroke-width="1"/>
<line x1="2063" y1="537.3" x2="2063" y2="547.3" stroke="#b90a10" stroke-width="2"/>
<line x1="2063" y1="553" x2="2063" y2="572.7" stroke="#b90a10" stroke-width="2"/>
<rect x="2053.8" y="548" width="18.5" height="4.2" fill="#fff" stroke="#b90a10" stroke-width="1.8"/>
<line x1="2088.5" y1="595.7" x2="2088.5" y2="609.8" stroke="#1a921a" stroke-width="2"/>
<rect x="2078.5" y="577.4" width="20" height="18.3" fill="#1a921a" stroke="none" stroke-width="1"/>
<line x1="2114" y1="638.5" x2="2114" y2="653.6" stroke="#1a921a" stroke-width="2"/>
<rect x="2104" y="593.4" width="20" height="45.1" fill="#1a921a" stroke="none" stroke-width="1"/>
<line x1="2139.5" y1="617.2" x2="2139.5" y2="623.7" stroke="#b90a10" stroke-width="2"/>
<line x1="2139.5" y1="628.1" x2="2139.5" y2="648.5" stroke="#b90a10" stroke-width="2"/>
<rect x="2130.2" y="624.5" width="18.5" height="2.9" fill="#fff" stroke="#b90a10" stroke-width="1.8"/>
<line x1="2165" y1="658.6" x2="2165" y2="660.5" stroke="#1a921a" stroke-width="2"/>
<rect x="2155" y="634.2" width="20" height="24.4" fill="#1a921a" stroke="none" stroke-width="1"/>
<line x1="2190.5" y1="751.6" x2="2190.5" y2="753.7" stroke="#1a921a" stroke-width="2"/>
<rect x="2180.5" y="685.2" width="20" height="66.4" fill="#1a921a" stroke="none" stroke-width="1"/>
<line x1="2216" y1="750.4" x2="2216" y2="770.1" stroke="#1a921a" stroke-width="2"/>
<line x1="2216" y1="779.4" x2="2216" y2="791.9" stroke="#1a921a" stroke-width="2"/>
<rect x="2206" y="770.1" width="20" height="9.3" fill="#1a921a" stroke="none" stroke-width="1"/>
<line x1="2241.5" y1="786.3" x2="2241.5" y2="791.4" stroke="#1a921a" stroke-width="2"/>
<line x1="2241.5" y1="823.9" x2="2241.5" y2="852.4" stroke="#1a921a" stroke-width="2"/>
<rect x="2231.5" y="791.4" width="20" height="32.5" fill="#1a921a" stroke="none" stroke-width="1"/>
<line x1="2267" y1="798.4" x2="2267" y2="808.8" stroke="#b90a10" stroke-width="2"/>
<line x1="2267" y1="814.1" x2="2267" y2="849.8" stroke="#b90a10" stroke-width="2"/>
<rect x="2257.8" y="809.5" width="18.5" height="3.8" fill="#fff" stroke="#b90a10" stroke-width="1.8"/>
<line x1="2292.5" y1="755.5" x2="2292.5" y2="763.2" stroke="#1a921a" stroke-width="2"/>
<line x1="2292.5" y1="787.3" x2="2292.5" y2="792.6" stroke="#1a921a" stroke-width="2"/>
<rect x="2282.5" y="763.2" width="20" height="24.1" fill="#1a921a" stroke="none" stroke-width="1"/>
<line x1="2318" y1="774.7" x2="2318" y2="775.7" stroke="#b90a10" stroke-width="2"/>
<line x1="2318" y1="811.1" x2="2318" y2="819.7" stroke="#b90a10" stroke-width="2"/>
<rect x="2308.8" y="776.5" width="18.5" height="33.9" fill="#fff" stroke="#b90a10" stroke-width="1.8"/>
<line x1="2343.5" y1="701.1" x2="2343.5" y2="716.6" stroke="#b90a10" stroke-width="2"/>
<line x1="2343.5" y1="790.3" x2="2343.5" y2="800.7" stroke="#b90a10" stroke-width="2"/>
<rect x="2334.2" y="717.4" width="18.5" height="72.2" fill="#fff" stroke="#b90a10" stroke-width="1.8"/>
<line x1="2369" y1="681.4" x2="2369" y2="691.8" stroke="#b90a10" stroke-width="2"/>
<line x1="2369" y1="727" x2="2369" y2="728.2" stroke="#b90a10" stroke-width="2"/>
<rect x="2359.8" y="692.5" width="18.5" height="33.7" fill="#fff" stroke="#b90a10" stroke-width="1.8"/>
<line x1="2394.5" y1="704.6" x2="2394.5" y2="727" stroke="#1a921a" stroke-width="2"/>
<rect x="2384.5" y="692.3" width="20" height="12.3" fill="#1a921a" stroke="none" stroke-width="1"/>
<line x1="2420" y1="706.9" x2="2420" y2="714.5" stroke="#1a921a" stroke-width="2"/>
<rect x="2410" y="664" width="20" height="42.9" fill="#1a921a" stroke="none" stroke-width="1"/>
<line x1="2445.5" y1="675.1" x2="2445.5" y2="695.3" stroke="#1a921a" stroke-width="2"/>
<line x1="2445.5" y1="727.7" x2="2445.5" y2="728.4" stroke="#1a921a" stroke-width="2"/>
<rect x="2435.5" y="695.3" width="20" height="32.4" fill="#1a921a" stroke="none" stroke-width="1"/>
<line x1="2471" y1="676.8" x2="2471" y2="689.5" stroke="#b90a10" stroke-width="2"/>
<line x1="2471" y1="721.2" x2="2471" y2="722.4" stroke="#b90a10" stroke-width="2"/>
<rect x="2461.8" y="690.2" width="18.5" height="30.2" fill="#fff" stroke="#b90a10" stroke-width="1.8"/>
<line x1="2496.5" y1="629.3" x2="2496.5" y2="631.6" stroke="#b90a10" stroke-width="2"/>
<line x1="2496.5" y1="661.2" x2="2496.5" y2="672.1" stroke="#b90a10" stroke-width="2"/>
<rect x="2487.2" y="632.4" width="18.5" height="28.1" fill="#fff" stroke="#b90a10" stroke-width="1.8"/>
<line x1="2522" y1="638.1" x2="2522" y2="643.2" stroke="#1a921a" stroke-width="2"/>
<line x1="2522" y1="647.3" x2="2522" y2="665.6" stroke="#1a921a" stroke-width="2"/>
<rect x="2512" y="643.2" width="20" height="4.1" fill="#1a921a" stroke="none" stroke-width="1"/>
<line x1="2547.5" y1="639.2" x2="2547.5" y2="657.9" stroke="#b90a10" stroke-width="2"/>
<line x1="2547.5" y1="659.9" x2="2547.5" y2="681.9" stroke="#b90a10" stroke-width="2"/>
<rect x="2537.5" y="657.4" width="20" height="3" fill="#b90a10" stroke="none" stroke-width="1"/>
<line x1="2573" y1="642.2" x2="2573" y2="655.5" stroke="#b90a10" stroke-width="2"/>
<line x1="2573" y1="667.1" x2="2573" y2="671.4" stroke="#b90a10" stroke-width="2"/>
<rect x="2563.8" y="656.2" width="18.5" height="10.1" fill="#fff" stroke="#b90a10" stroke-width="1.8"/>
<line x1="2598.5" y1="672.3" x2="2598.5" y2="676.4" stroke="#1a921a" stroke-width="2"/>
<line x1="2598.5" y1="688.5" x2="2598.5" y2="701.5" stroke="#1a921a" stroke-width="2"/>
<rect x="2588.5" y="676.4" width="20" height="12.1" fill="#1a921a" stroke="none" stroke-width="1"/>
<line x1="2624" y1="672.3" x2="2624" y2="679.5" stroke="#1a921a" stroke-width="2"/>
<line x1="2624" y1="695.4" x2="2624" y2="717.5" stroke="#1a921a" stroke-width="2"/>
<rect x="2614" y="679.5" width="20" height="15.9" fill="#1a921a" stroke="none" stroke-width="1"/>
<line x1="2649.5" y1="672.3" x2="2649.5" y2="692.2" stroke="#b90a10" stroke-width="2"/>
<line x1="2649.5" y1="694.5" x2="2649.5" y2="710.5" stroke="#b90a10" stroke-width="2"/>
<rect x="2639.5" y="691.9" width="20" height="3" fill="#b90a10" stroke="none" stroke-width="1"/>
<line x1="2675" y1="647.5" x2="2675" y2="650.5" stroke="#1a921a" stroke-width="2"/>
<line x1="2675" y1="662.5" x2="2675" y2="673.7" stroke="#1a921a" stroke-width="2"/>
<rect x="2665" y="650.5" width="20" height="12" fill="#1a921a" stroke="none" stroke-width="1"/>
<line x1="2700.5" y1="665.3" x2="2700.5" y2="670.2" stroke="#1a921a" stroke-width="2"/>
<line x1="2700.5" y1="704.7" x2="2700.5" y2="705.4" stroke="#1a921a" stroke-width="2"/>
<rect x="2690.5" y="670.2" width="20" height="34.5" fill="#1a921a" stroke="none" stroke-width="1"/>
<line x1="2726" y1="704.7" x2="2726" y2="708.9" stroke="#b90a10" stroke-width="2"/>
<line x1="2726" y1="718.1" x2="2726" y2="735.5" stroke="#b90a10" stroke-width="2"/>
<rect x="2716.8" y="709.6" width="18.5" height="7.7" fill="#fff" stroke="#b90a10" stroke-width="1.8"/>
<line x1="2751.5" y1="687.6" x2="2751.5" y2="700.8" stroke="#b90a10" stroke-width="2"/>
<line x1="2751.5" y1="707" x2="2751.5" y2="738.5" stroke="#b90a10" stroke-width="2"/>
<rect x="2742.2" y="701.5" width="18.5" height="4.7" fill="#fff" stroke="#b90a10" stroke-width="1.8"/>
<line x1="2777" y1="654.4" x2="2777" y2="685.3" stroke="#1a921a" stroke-width="2"/>
<line x1="2777" y1="694.5" x2="2777" y2="701.2" stroke="#1a921a" stroke-width="2"/>
<rect x="2767" y="685.3" width="20" height="9.2" fill="#1a921a" stroke="none" stroke-width="1"/>
<line x1="2802.5" y1="701.9" x2="2802.5" y2="707.3" stroke="#1a921a" stroke-width="2"/>
<line x1="2802.5" y1="737.8" x2="2802.5" y2="738.5" stroke="#1a921a" stroke-width="2"/>
<rect x="2792.5" y="707.3" width="20" height="30.5" fill="#1a921a" stroke="none" stroke-width="1"/>
<line x1="2828" y1="717.5" x2="2828" y2="718.6" stroke="#b90a10" stroke-width="2"/>
<line x1="2828" y1="742" x2="2828" y2="756.8" stroke="#b90a10" stroke-width="2"/>
<rect x="2818.8" y="719.4" width="18.5" height="21.9" fill="#fff" stroke="#b90a10" stroke-width="1.8"/>
<line x1="2853.5" y1="746.4" x2="2853.5" y2="752.9" stroke="#1a921a" stroke-width="2"/>
<rect x="2843.5" y="718.1" width="20" height="28.3" fill="#1a921a" stroke="none" stroke-width="1"/>
<line x1="2879" y1="778.4" x2="2879" y2="801.5" stroke="#1a921a" stroke-width="2"/>
<rect x="2869" y="751.3" width="20" height="27.1" fill="#1a921a" stroke="none" stroke-width="1"/>
<line x1="2904.5" y1="767.3" x2="2904.5" y2="769.6" stroke="#b90a10" stroke-width="2"/>
<line x1="2904.5" y1="779.1" x2="2904.5" y2="791.8" stroke="#b90a10" stroke-width="2"/>
<rect x="2895.2" y="770.4" width="18.5" height="8" fill="#fff" stroke="#b90a10" stroke-width="1.8"/>
<line x1="2930" y1="806.2" x2="2930" y2="815.4" stroke="#1a921a" stroke-width="2"/>
<rect x="2920" y="769.1" width="20" height="37.1" fill="#1a921a" stroke="none" stroke-width="1"/>
<line x1="2955.5" y1="786.1" x2="2955.5" y2="796.7" stroke="#b90a10" stroke-width="2"/>
<line x1="2955.5" y1="809.1" x2="2955.5" y2="815.5" stroke="#b90a10" stroke-width="2"/>
<rect x="2946.2" y="797.5" width="18.5" height="10.9" fill="#fff" stroke="#b90a10" stroke-width="1.8"/>
<line x1="2981" y1="812.6" x2="2981" y2="851.5" stroke="#1a921a" stroke-width="2"/>
<rect x="2971" y="799.4" width="20" height="13.2" fill="#1a921a" stroke="none" stroke-width="1"/>
<line x1="3006.5" y1="807.5" x2="3006.5" y2="815.1" stroke="#1a921a" stroke-width="2"/>
<line x1="3006.5" y1="839.5" x2="3006.5" y2="842.2" stroke="#1a921a" stroke-width="2"/>
<rect x="2996.5" y="815.1" width="20" height="24.4" fill="#1a921a" stroke="none" stroke-width="1"/>
<line x1="3032" y1="920.5" x2="3032" y2="921.7" stroke="#1a921a" stroke-width="2"/>
<rect x="3022" y="853.1" width="20" height="67.4" fill="#1a921a" stroke="none" stroke-width="1"/>
<line x1="3057.5" y1="890.2" x2="3057.5" y2="913.4" stroke="#b90a10" stroke-width="2"/>
<line x1="3057.5" y1="928.4" x2="3057.5" y2="935.6" stroke="#b90a10" stroke-width="2"/>
<rect x="3048.2" y="914.1" width="18.5" height="13.5" fill="#fff" stroke="#b90a10" stroke-width="1.8"/>
<line x1="3083" y1="908.3" x2="3083" y2="920.3" stroke="#1a921a" stroke-width="2"/>
<line x1="3083" y1="923.3" x2="3083" y2="951.1" stroke="#1a921a" stroke-width="2"/>
<rect x="3073" y="920.3" width="20" height="3" fill="#1a921a" stroke="none" stroke-width="1"/>
<line x1="3108.5" y1="901.8" x2="3108.5" y2="913.4" stroke="#b90a10" stroke-width="2"/>
<line x1="3108.5" y1="922.2" x2="3108.5" y2="933.3" stroke="#b90a10" stroke-width="2"/>
<rect x="3099.2" y="914.1" width="18.5" height="7.3" fill="#fff" stroke="#b90a10" stroke-width="1.8"/>
<line x1="3134" y1="880.9" x2="3134" y2="889.7" stroke="#b90a10" stroke-width="2"/>
<line x1="3134" y1="940" x2="3134" y2="978.2" stroke="#b90a10" stroke-width="2"/>
<rect x="3124.8" y="890.5" width="18.5" height="48.8" fill="#fff" stroke="#b90a10" stroke-width="1.8"/>
<line x1="3159.5" y1="900.8" x2="3159.5" y2="906.4" stroke="#b90a10" stroke-width="2"/>
<rect x="3150.2" y="881.2" width="18.5" height="18.8" fill="#fff" stroke="#b90a10" stroke-width="1.8"/>
<line x1="3185" y1="949.5" x2="3185" y2="950.4" stroke="#1a921a" stroke-width="2"/>
<rect x="3175" y="890.2" width="20" height="59.3" fill="#1a921a" stroke="none" stroke-width="1"/>
<line x1="3210.5" y1="914.7" x2="3210.5" y2="928.4" stroke="#1a921a" stroke-width="2"/>
<line x1="3210.5" y1="971.3" x2="3210.5" y2="975" stroke="#1a921a" stroke-width="2"/>
<rect x="3200.5" y="928.4" width="20" height="42.9" fill="#1a921a" stroke="none" stroke-width="1"/>
<line x1="3236" y1="926.8" x2="3236" y2="953" stroke="#1a921a" stroke-width="2"/>
<line x1="3236" y1="983.6" x2="3236" y2="987.5" stroke="#1a921a" stroke-width="2"/>
<rect x="3226" y="953" width="20" height="30.6" fill="#1a921a" stroke="none" stroke-width="1"/>
<line x1="3261.5" y1="971.3" x2="3261.5" y2="998.1" stroke="#b90a10" stroke-width="2"/>
<line x1="3261.5" y1="999.8" x2="3261.5" y2="1017.6" stroke="#b90a10" stroke-width="2"/>
<rect x="3251.5" y="997.5" width="20" height="3" fill="#b90a10" stroke="none" stroke-width="1"/>
<line x1="3287" y1="980.1" x2="3287" y2="992.4" stroke="#b90a10" stroke-width="2"/>
<line x1="3287" y1="1002.8" x2="3287" y2="1019.5" stroke="#b90a10" stroke-width="2"/>
<rect x="3277.8" y="993.1" width="18.5" height="8.9" fill="#fff" stroke="#b90a10" stroke-width="1.8"/>
<line x1="3312.5" y1="987" x2="3312.5" y2="992.1" stroke="#1a921a" stroke-width="2"/>
<rect x="3302.5" y="992.1" width="20" height="45.2" fill="#1a921a" stroke="none" stroke-width="1"/>
<line x1="3328.5" y1="1037.5" x2="3347.5" y2="1037.5" stroke="#b90a10" stroke-width="2"/>
</g>
<polyline points="48.5,180.5 74,181.7 99.5,182.1 125,182.2 150.5,181 176,180.7 201.5,180.5 227,180.5 252.5,180.5 278,180.5 303.5,180.5 329,180.6 354.5,180.7 380,180.8 405.5,180.9 431,181.3 456.5,181.9 482,182.5 507.5,183.3 533,184.9 558.5,186.5 584,188.1 609.5,191 635,194.1 660.5,197.2 686,200.3 711.5,203.2 737,206 762.5,208.9 788,211.7 813.5,214.5 839,217.4 864.5,218.7 890,219.9 915.5,221.1 941,222.3 966.5,223.5 992,224.7 1017.5,225.9 1043,227.1 1068.5,228.3 1094,231 1119.5,233.8 1145,236.4 1170.5,238.9 1196,241.4 1221.5,244.6 1247,248 1272.5,251.1 1298,254.1 1323.5,257.1 1349,261.8 1374.5,266.6 1400,269.5 1425.5,272.3 1451,275.1 1476.5,278 1502,280.1 1527.5,282.1 1553,284.2 1578.5,286.2 1604,287.9 1629.5,289.4 1655,290.9 1680.5,293.2 1706,296.3 1731.5,299.5 1757,302.7 1782.5,305 1808,307.3 1833.5,309.6 1859,312.5 1884.5,315.7 1910,318.8 1935.5,322.3 1961,326.4 1986.5,330.5 2012,334.6 2037.5,339.1 2063,343.6 2088.5,348 2114,353.5 2139.5,359.4 2165,365.3 2190.5,370.9 2216,376.5 2241.5,382.4 2267,388.4 2292.5,393.7 2318,398.2 2343.5,402.7 2369,407.2 2394.5,412 2420,416.9 2445.5,421.7 2471,425.5 2496.5,429.1 2522,432.7 2547.5,436.5 2573,440.6 2598.5,444.6 2624,448.6 2649.5,452.1 2675,455.6 2700.5,459 2726,462.1 2751.5,465 2777,467.9 2802.5,471 2828,474.2 2853.5,477.4 2879,480.6 2904.5,484 2930,487.4 2955.5,490.9 2981,494.7 3006.5,498.6 3032,502.5 3057.5,506.5 3083,509.8 3108.5,514.4 3134,518.9 3159.5,523.9 3185,529.9 3210.5,535.7 3236,541.6 3261.5,547 3287,551.8 3312.5,557.3 3338,562.8" fill="none" stroke="#000" stroke-width="2.8" stroke-linejoin="round"/>
<polyline points="48.5,215.4 74,217.1 99.5,218.8 125,216.2 150.5,217.9 176,219.6 201.5,222 227,226.9 252.5,230.3 278,233.5 303.5,236.7 329,241.5 354.5,244.8 380,248.3 405.5,254.3 431,258.8 456.5,262.7 482,266.5 507.5,270.6 533,276 558.5,281.4 584,286.8 609.5,292.2 635,297.6 660.5,303 686,308.2 711.5,313.3 737,317.9 762.5,319.6 788,321.4 813.5,322.3 839,323.2 864.5,323.8 890,324.3 915.5,324.9 941,325.5 966.5,325.5 992,325.3 1017.5,325 1043,324.8 1068.5,324.5 1094,326.9 1119.5,328.5 1145,330.1 1170.5,332.1 1196,334.8 1221.5,337 1247,339.1 1272.5,340.8 1298,342.4 1323.5,344.1 1349,345.8 1374.5,347.5 1400,348.8 1425.5,350.1 1451,351.3 1476.5,351.6 1502,351.6 1527.5,351.6 1553,351.9 1578.5,354.1 1604,356.6 1629.5,359.8 1655,363.8 1680.5,367.7 1706,371.6 1731.5,374.7 1757,376.3 1782.5,378.9 1808,381.6 1833.5,384.6 1859,386.7 1884.5,390.3 1910,394.4 1935.5,397.8 1961,400.9 1986.5,403.7 2012,407.5 2037.5,411.6 2063,414.4 2088.5,419.2 2114,424.6 2139.5,429.2 2165,434.2 2190.5,440.6 2216,446.9 2241.5,453.9 2267,460.3 2292.5,468.6 2318,476.5 2343.5,483.4 2369,491.6 2394.5,500.6 2420,509.2 2445.5,517.6 2471,526 2496.5,533.8 2522,541.3 2547.5,548.7 2573,555.9 2598.5,563.7 2624,569.9 2649.5,575.4 2675,580.2 2700.5,585.2 2726,590.4 2751.5,594.7 2777,597.6 2802.5,602 2828,604.7 2853.5,608.4 2879,612.4 2904.5,617.1 2930,623.2 2955.5,629.1 2981,634.8 3006.5,641.5 3032,650.6 3057.5,659.1 3083,667.6 3108.5,674.8 3134,681.2 3159.5,688.1 3185,696 3210.5,703.7 3236,711.6 3261.5,719.3 3287,727.2 3312.5,735.7 3338,744" fill="none" stroke="#000" stroke-width="2.8" stroke-linejoin="round"/>
<polyline points="48.5,252.7 74,259.3 99.5,266 125,272.3 150.5,278.6 176,284.9 201.5,289 227,292.7 252.5,296.4 278,300.3 303.5,305.5 329,310.8 354.5,316 380,320.3 405.5,324.6 431,329.4 456.5,334.9 482,340.5 507.5,342.2 533,346.7 558.5,349.5 584,350.5 609.5,353.3 635,356.4 660.5,359.4 686,362.5 711.5,363.8 737,364.4 762.5,363.1 788,360.5 813.5,356.7 839,352.8 864.5,347.7 890,342.5 915.5,337.1 941,331.6 966.5,326 992,321.3 1017.5,316.9 1043,312.7 1068.5,309.4 1094,308.7 1119.5,310.8 1145,314.3 1170.5,317.7 1196,320.5 1221.5,322.9 1247,325.3 1272.5,328 1298,332.3 1323.5,335.2 1349,339.3 1374.5,343.5 1400,346.8 1425.5,349.2 1451,351.5 1476.5,352.6 1502,352.4 1527.5,353.9 1553,354.9 1578.5,359.1 1604,363.9 1629.5,366.9 1655,369.8 1680.5,373.2 1706,375.9 1731.5,379.3 1757,381.7 1782.5,387.6 1808,393.7 1833.5,400.6 1859,408.3 1884.5,417.4 1910,426.6 1935.5,434.8 1961,444.3 1986.5,454.5 2012,464.6 2037.5,474 2063,482 2088.5,491.4 2114,499.3 2139.5,505.8 2165,512.9 2190.5,521.5 2216,531.2 2241.5,540.6 2267,548 2292.5,555.7 2318,561.2 2343.5,566.1 2369,569.9 2394.5,575.3 2420,582 2445.5,589.1 2471,594.5 2496.5,599.3 2522,606.2 2547.5,612.6 2573,618.6 2598.5,623.8 2624,628.6 2649.5,634.2 2675,638.9 2700.5,643.8 2726,648.8 2751.5,652.8 2777,657.3 2802.5,662.5 2828,666.9 2853.5,671 2879,677.9 2904.5,683.8 2930,690 2955.5,696.1 2981,702.4 3006.5,709.1 3032,717.1 3057.5,725.2 3083,734.6 3108.5,742.5 3134,748.8 3159.5,755.2 3185,762.5 3210.5,768 3236,773.1 3261.5,777.4 3287,782 3312.5,788.3 3338,794.8" fill="none" stroke="#138590" stroke-width="2.8" stroke-linejoin="round"/>
<polyline points="48.5,354.5 74,359.4 99.5,362.2 125,362.6 150.5,363.1 176,363.7 201.5,364.4 227,365 252.5,365.3 278,365.6 303.5,365.9 329,362.7 354.5,358.5 380,355.7 405.5,353.7 431,351.3 456.5,349.6 482,347.9 507.5,347.2 533,346.1 558.5,344.1 584,342 609.5,345.5 635,352 660.5,356.8 686,362.9 711.5,365.4 737,365.6 762.5,361.4 788,357.4 813.5,352.4 839,343.4 864.5,336 890,330 915.5,323.8 941,314 966.5,302.3 992,293.4 1017.5,286.8 1043,279.3 1068.5,274.7 1094,275.4 1119.5,276.1 1145,276.6 1170.5,278.6 1196,278.1 1221.5,280.4 1247,285 1272.5,294.5 1298,307.2 1323.5,318 1349,335.2 1374.5,351.1 1400,363.6 1425.5,374.6 1451,389 1476.5,402.9 1502,411.4 1527.5,421 1553,430.4 1578.5,443.5 1604,452.4 1629.5,457.8 1655,462.9 1680.5,467.9 1706,473.7 1731.5,478.3 1757,478.4 1782.5,480.8 1808,480.2 1833.5,483.2 1859,481.4 1884.5,483.7 1910,489.6 1935.5,495 1961,499.7 1986.5,506.1 2012,517.7 2037.5,527 2063,533.6 2088.5,539.4 2114,546.1 2139.5,553.9 2165,563 2190.5,575.2 2216,588.8 2241.5,603 2267,617.5 2292.5,630.6 2318,642.2 2343.5,648.9 2369,658.3 2394.5,666.9 2420,674.3 2445.5,683.1 2471,689.4 2496.5,692.6 2522,694.8 2547.5,698.2 2573,703.6 2598.5,708.3 2624,711.1 2649.5,714.5 2675,714.7 2700.5,712.4 2726,708.9 2751.5,702.7 2777,697 2802.5,694.5 2828,691.7 2853.5,693.2 2879,697.5 2904.5,700.7 2930,705.7 2955.5,709.1 2981,715.3 3006.5,725.7 3032,739.4 3057.5,752.1 3083,765.5 3108.5,776.8 3134,786.5 3159.5,795.9 3185,810.2 3210.5,823.6 3236,837.3 3261.5,852.2 3287,867.1 3312.5,882 3338,898" fill="none" stroke="#0098ff" stroke-width="2.8" stroke-linejoin="round"/>
<polyline points="48.5,395.7 74,389 99.5,375.1 125,361.3 150.5,349.1 176,337 201.5,329.5 227,329.5 252.5,329.5 278,329.1 303.5,334.4 329,336.9 354.5,340.9 380,348.7 405.5,356.2 431,366 456.5,370.7 482,366.4 507.5,363.5 533,363.1 558.5,353.7 584,347.1 609.5,350.1 635,355.3 660.5,357.4 686,359.7 711.5,360.2 737,364.8 762.5,359.4 788,351.7 813.5,351.1 839,339.7 864.5,321.9 890,304.6 915.5,290.2 941,268.3 966.5,244.3 992,222 1017.5,214.3 1043,206.9 1068.5,198.2 1094,211.1 1119.5,230.2 1145,248.6 1170.5,267 1196,288 1221.5,316.5 1247,348 1272.5,374.7 1298,407.5 1323.5,437.9 1349,459.3 1374.5,471.9 1400,478.6 1425.5,482.2 1451,490.1 1476.5,489.2 1502,474.8 1527.5,467.3 1553,453.4 1578.5,449.2 1604,445.4 1629.5,443.6 1655,447.2 1680.5,453.5 1706,457.4 1731.5,467.3 1757,482 1782.5,494.2 1808,507 1833.5,517.3 1859,517.4 1884.5,523.7 1910,532.1 1935.5,536.5 1961,541.9 1986.5,544.9 2012,553.4 2037.5,559.7 2063,560.1 2088.5,561.4 2114,574.9 2139.5,584 2165,593.9 2190.5,614 2216,635.6 2241.5,661.1 2267,681.7 2292.5,701.5 2318,724.3 2343.5,736.4 2369,741.7 2394.5,749.8 2420,754.7 2445.5,752.3 2471,743.3 2496.5,724 2522,707.9 2547.5,695 2573,682.9 2598.5,680.1 2624,680.5 2649.5,679.2 2675,674.8 2700.5,672.5 2726,674.5 2751.5,681.4 2777,686.1 2802.5,694.1 2828,700.4 2853.5,706.2 2879,714.5 2904.5,722.2 2930,736.6 2955.5,745.8 2981,756.2 3006.5,770 3032,792.6 3057.5,810.2 3083,830.7 3108.5,847.4 3134,858.5 3159.5,869.6 3185,883.9 3210.5,901.4 3236,918.5 3261.5,934.3 3287,941.5 3312.5,953.9 3338,965.3" fill="none" stroke="#ff2e2e" stroke-width="2.8" stroke-linejoin="round"/>
<line x1="864" y1="110.5" x2="884" y2="110.5" stroke="#000" stroke-width="1.2"/>
<path d="M863,110.5 L869,107.5 L869,113.5 Z" fill="#000"/>
<text x="885" y="111.5" font-size="19" fill="#000" text-anchor="start" dominant-baseline="central">4064.36</text>
<line x1="3293" y1="1038.5" x2="3313" y2="1038.5" stroke="#000" stroke-width="1.2"/>
<path d="M3314,1038.5 L3308,1035.5 L3308,1041.5 Z" fill="#000"/>
<text x="3220.5" y="1039" font-size="19" fill="#000" text-anchor="start" dominant-baseline="central">3297.37</text>
<path d="M229,61 L235,67 L229,73 L223,67 Z" fill="#2a9ac8"/>
<path d="M381,61 L387,67 L381,73 L375,67 Z" fill="#2a9ac8"/>
<path d="M432,61 L438,67 L432,73 L426,67 Z" fill="#2a9ac8"/>
<path d="M1376,61 L1382,67 L1376,73 L1370,67 Z" fill="#2a9ac8"/>
<g shape-rendering="crispEdges">
<rect x="39.2" y="1196.3" width="18.5" height="120.2" fill="#fff" stroke="#b90a10" stroke-width="1.8"/>
<rect x="64" y="1186.9" width="20" height="129.6" fill="#1a921a" stroke="none" stroke-width="1"/>
<rect x="90.2" y="1166.5" width="18.5" height="150" fill="#fff" stroke="#b90a10" stroke-width="1.8"/>
<rect x="115.8" y="1167.2" width="18.5" height="149.2" fill="#fff" stroke="#b90a10" stroke-width="1.8"/>
<rect x="140.5" y="1172.5" width="20" height="144" fill="#1a921a" stroke="none" stroke-width="1"/>
<rect x="166" y="1174.1" width="20" height="142.4" fill="#1a921a" stroke="none" stroke-width="1"/>
<rect x="191.5" y="1186.4" width="20" height="130.1" fill="#1a921a" stroke="none" stroke-width="1"/>
<rect x="217" y="1183.4" width="20" height="133.1" fill="#1a921a" stroke="none" stroke-width="1"/>
<rect x="243.2" y="1203.5" width="18.5" height="113" fill="#fff" stroke="#b90a10" stroke-width="1.8"/>
<rect x="268.8" y="1206.2" width="18.5" height="110.3" fill="#fff" stroke="#b90a10" stroke-width="1.8"/>
<rect x="293.5" y="1207.3" width="20" height="109.2" fill="#1a921a" stroke="none" stroke-width="1"/>
<rect x="319.8" y="1205.3" width="18.5" height="111.2" fill="#fff" stroke="#b90a10" stroke-width="1.8"/>
<rect x="345.2" y="1179.5" width="18.5" height="137" fill="#fff" stroke="#b90a10" stroke-width="1.8"/>
<rect x="370.8" y="1200.2" width="18.5" height="116.3" fill="#fff" stroke="#b90a10" stroke-width="1.8"/>
<rect x="395.5" y="1214.1" width="20" height="102.4" fill="#1a921a" stroke="none" stroke-width="1"/>
<rect x="421" y="1216" width="20" height="100.5" fill="#1a921a" stroke="none" stroke-width="1"/>
<rect x="446.5" y="1222.2" width="20" height="94.3" fill="#1a921a" stroke="none" stroke-width="1"/>
<rect x="472.8" y="1217.5" width="18.5" height="99" fill="#fff" stroke="#b90a10" stroke-width="1.8"/>
<rect x="498.2" y="1221" width="18.5" height="95.5" fill="#fff" stroke="#b90a10" stroke-width="1.8"/>
<rect x="523" y="1201.3" width="20" height="115.2" fill="#1a921a" stroke="none" stroke-width="1"/>
<rect x="549.2" y="1191.8" width="18.5" height="124.8" fill="#fff" stroke="#b90a10" stroke-width="1.8"/>
<rect x="574" y="1198.6" width="20" height="117.9" fill="#1a921a" stroke="none" stroke-width="1"/>
<rect x="599.5" y="1222.2" width="20" height="94.3" fill="#1a921a" stroke="none" stroke-width="1"/>
<rect x="625" y="1226.3" width="20" height="90.2" fill="#1a921a" stroke="none" stroke-width="1"/>
<rect x="651.2" y="1235.2" width="18.5" height="81.2" fill="#fff" stroke="#b90a10" stroke-width="1.8"/>
<rect x="676" y="1222.2" width="20" height="94.3" fill="#1a921a" stroke="none" stroke-width="1"/>
<rect x="702.2" y="1232.7" width="18.5" height="83.8" fill="#fff" stroke="#b90a10" stroke-width="1.8"/>
<rect x="727.8" y="1235.5" width="18.5" height="81" fill="#fff" stroke="#b90a10" stroke-width="1.8"/>
<rect x="753.2" y="1157.2" width="18.5" height="159.3" fill="#fff" stroke="#b90a10" stroke-width="1.8"/>
<rect x="778" y="1214.5" width="20" height="102" fill="#1a921a" stroke="none" stroke-width="1"/>
<rect x="803.5" y="1213.9" width="20" height="102.6" fill="#1a921a" stroke="none" stroke-width="1"/>
<rect x="829.8" y="1151.5" width="18.5" height="165" fill="#fff" stroke="#b90a10" stroke-width="1.8"/>
<rect x="854.5" y="1121.3" width="20" height="195.2" fill="#1a921a" stroke="none" stroke-width="1"/>
<rect x="880" y="1178.2" width="20" height="138.3" fill="#1a921a" stroke="none" stroke-width="1"/>
<rect x="905.5" y="1204.6" width="20" height="111.9" fill="#1a921a" stroke="none" stroke-width="1"/>
<rect x="931.8" y="1196.7" width="18.5" height="119.8" fill="#fff" stroke="#b90a10" stroke-width="1.8"/>
<rect x="956.5" y="1147.1" width="20" height="169.4" fill="#1a921a" stroke="none" stroke-width="1"/>
<rect x="982" y="1193.1" width="20" height="123.4" fill="#1a921a" stroke="none" stroke-width="1"/>
<rect x="1007.5" y="1207" width="20" height="109.5" fill="#1a921a" stroke="none" stroke-width="1"/>
<rect x="1033.8" y="1223.3" width="18.5" height="93.2" fill="#fff" stroke="#b90a10" stroke-width="1.8"/>
<rect x="1059.2" y="1223.3" width="18.5" height="93.2" fill="#fff" stroke="#b90a10" stroke-width="1.8"/>
<rect x="1084" y="1207" width="20" height="109.5" fill="#1a921a" stroke="none" stroke-width="1"/>
<rect x="1110.2" y="1211.5" width="18.5" height="105" fill="#fff" stroke="#b90a10" stroke-width="1.8"/>
<rect x="1135" y="1220.1" width="20" height="96.4" fill="#1a921a" stroke="none" stroke-width="1"/>
<rect x="1160.5" y="1225.1" width="20" height="91.4" fill="#1a921a" stroke="none" stroke-width="1"/>
<rect x="1186.8" y="1223.3" width="18.5" height="93.2" fill="#fff" stroke="#b90a10" stroke-width="1.8"/>
<rect x="1211.5" y="1225.1" width="20" height="91.4" fill="#1a921a" stroke="none" stroke-width="1"/>
<rect x="1237" y="1223.2" width="20" height="93.3" fill="#1a921a" stroke="none" stroke-width="1"/>
<rect x="1263.2" y="1209.3" width="18.5" height="107.2" fill="#fff" stroke="#b90a10" stroke-width="1.8"/>
<rect x="1288" y="1229.1" width="20" height="87.4" fill="#1a921a" stroke="none" stroke-width="1"/>
<rect x="1314.2" y="1211.5" width="18.5" height="105" fill="#fff" stroke="#b90a10" stroke-width="1.8"/>
<rect x="1339.8" y="1223.3" width="18.5" height="93.2" fill="#fff" stroke="#b90a10" stroke-width="1.8"/>
<rect x="1364.5" y="1136.2" width="20" height="180.3" fill="#1a921a" stroke="none" stroke-width="1"/>
<rect x="1390.8" y="1176.5" width="18.5" height="140" fill="#fff" stroke="#b90a10" stroke-width="1.8"/>
<rect x="1415.5" y="1195.2" width="20" height="121.3" fill="#1a921a" stroke="none" stroke-width="1"/>
<rect x="1441" y="1210.8" width="20" height="105.7" fill="#1a921a" stroke="none" stroke-width="1"/>
<rect x="1467.2" y="1224.5" width="18.5" height="92" fill="#fff" stroke="#b90a10" stroke-width="1.8"/>
<rect x="1492.8" y="1190.8" width="18.5" height="125.8" fill="#fff" stroke="#b90a10" stroke-width="1.8"/>
<rect x="1517.5" y="1219.2" width="20" height="97.3" fill="#1a921a" stroke="none" stroke-width="1"/>
<rect x="1543.8" y="1227.7" width="18.5" height="88.8" fill="#fff" stroke="#b90a10" stroke-width="1.8"/>
<rect x="1568.5" y="1228.2" width="20" height="88.3" fill="#1a921a" stroke="none" stroke-width="1"/>
<rect x="1594" y="1246.2" width="20" height="70.3" fill="#1a921a" stroke="none" stroke-width="1"/>
<rect x="1620.2" y="1217.8" width="18.5" height="98.8" fill="#fff" stroke="#b90a10" stroke-width="1.8"/>
<rect x="1645" y="1240.3" width="20" height="76.2" fill="#1a921a" stroke="none" stroke-width="1"/>
<rect x="1670.5" y="1241.2" width="20" height="75.3" fill="#1a921a" stroke="none" stroke-width="1"/>
<rect x="1696" y="1234.1" width="20" height="82.4" fill="#1a921a" stroke="none" stroke-width="1"/>
<rect x="1721.5" y="1219.2" width="20" height="97.3" fill="#1a921a" stroke="none" stroke-width="1"/>
<rect x="1747.8" y="1232.3" width="18.5" height="84.2" fill="#fff" stroke="#b90a10" stroke-width="1.8"/>
<rect x="1772.5" y="1243.4" width="20" height="73.1" fill="#1a921a" stroke="none" stroke-width="1"/>
<rect x="1798" y="1252.1" width="20" height="64.4" fill="#1a921a" stroke="none" stroke-width="1"/>
<rect x="1823.5" y="1243.4" width="20" height="73.1" fill="#1a921a" stroke="none" stroke-width="1"/>
<rect x="1849.8" y="1214.7" width="18.5" height="101.8" fill="#fff" stroke="#b90a10" stroke-width="1.8"/>
<rect x="1874.5" y="1232.2" width="20" height="84.3" fill="#1a921a" stroke="none" stroke-width="1"/>
<rect x="1900" y="1241.2" width="20" height="75.3" fill="#1a921a" stroke="none" stroke-width="1"/>
<rect x="1926.2" y="1229.2" width="18.5" height="87.2" fill="#fff" stroke="#b90a10" stroke-width="1.8"/>
<rect x="1951" y="1235.6" width="20" height="80.9" fill="#1a921a" stroke="none" stroke-width="1"/>
<rect x="1977.2" y="1221.5" width="18.5" height="95" fill="#fff" stroke="#b90a10" stroke-width="1.8"/>
<rect x="2002" y="1229.4" width="20" height="87.1" fill="#1a921a" stroke="none" stroke-width="1"/>
<rect x="2027.5" y="1215.4" width="20" height="101.1" fill="#1a921a" stroke="none" stroke-width="1"/>
<rect x="2053.8" y="1212.5" width="18.5" height="104" fill="#fff" stroke="#b90a10" stroke-width="1.8"/>
<rect x="2078.5" y="1226.3" width="20" height="90.2" fill="#1a921a" stroke="none" stroke-width="1"/>
<rect x="2104" y="1226.3" width="20" height="90.2" fill="#1a921a" stroke="none" stroke-width="1"/>
<rect x="2130.2" y="1238.5" width="18.5" height="78" fill="#fff" stroke="#b90a10" stroke-width="1.8"/>
<rect x="2155" y="1231" width="20" height="85.5" fill="#1a921a" stroke="none" stroke-width="1"/>
<rect x="2180.5" y="1217" width="20" height="99.5" fill="#1a921a" stroke="none" stroke-width="1"/>
<rect x="2206" y="1226.3" width="20" height="90.2" fill="#1a921a" stroke="none" stroke-width="1"/>
<rect x="2231.5" y="1234.1" width="20" height="82.4" fill="#1a921a" stroke="none" stroke-width="1"/>
<rect x="2257.8" y="1218.3" width="18.5" height="98.2" fill="#fff" stroke="#b90a10" stroke-width="1.8"/>
<rect x="2282.5" y="1207" width="20" height="109.5" fill="#1a921a" stroke="none" stroke-width="1"/>
<rect x="2308.8" y="1226.8" width="18.5" height="89.8" fill="#fff" stroke="#b90a10" stroke-width="1.8"/>
<rect x="2334.2" y="1196" width="18.5" height="120.5" fill="#fff" stroke="#b90a10" stroke-width="1.8"/>
<rect x="2359.8" y="1187.3" width="18.5" height="129.2" fill="#fff" stroke="#b90a10" stroke-width="1.8"/>
<rect x="2384.5" y="1210.2" width="20" height="106.3" fill="#1a921a" stroke="none" stroke-width="1"/>
<rect x="2410" y="1221.6" width="20" height="94.9" fill="#1a921a" stroke="none" stroke-width="1"/>
<rect x="2435.5" y="1235" width="20" height="81.5" fill="#1a921a" stroke="none" stroke-width="1"/>
<rect x="2461.8" y="1227" width="18.5" height="89.5" fill="#fff" stroke="#b90a10" stroke-width="1.8"/>
<rect x="2487.2" y="1181.5" width="18.5" height="135" fill="#fff" stroke="#b90a10" stroke-width="1.8"/>
<rect x="2512" y="1210.8" width="20" height="105.7" fill="#1a921a" stroke="none" stroke-width="1"/>
<rect x="2538.2" y="1214" width="18.5" height="102.5" fill="#fff" stroke="#b90a10" stroke-width="1.8"/>
<rect x="2563.8" y="1215.5" width="18.5" height="101" fill="#fff" stroke="#b90a10" stroke-width="1.8"/>
<rect x="2588.5" y="1224.8" width="20" height="91.7" fill="#1a921a" stroke="none" stroke-width="1"/>
<rect x="2614" y="1227.9" width="20" height="88.6" fill="#1a921a" stroke="none" stroke-width="1"/>
<rect x="2640.2" y="1227.7" width="18.5" height="88.8" fill="#fff" stroke="#b90a10" stroke-width="1.8"/>
<rect x="2665" y="1218.5" width="20" height="98" fill="#1a921a" stroke="none" stroke-width="1"/>
<rect x="2690.5" y="1237.2" width="20" height="79.3" fill="#1a921a" stroke="none" stroke-width="1"/>
<rect x="2716.8" y="1241.7" width="18.5" height="74.8" fill="#fff" stroke="#b90a10" stroke-width="1.8"/>
<rect x="2742.2" y="1232.3" width="18.5" height="84.2" fill="#fff" stroke="#b90a10" stroke-width="1.8"/>
<rect x="2767" y="1226.3" width="20" height="90.2" fill="#1a921a" stroke="none" stroke-width="1"/>
<rect x="2792.5" y="1243.4" width="20" height="73.1" fill="#1a921a" stroke="none" stroke-width="1"/>
<rect x="2818.8" y="1241.7" width="18.5" height="74.8" fill="#fff" stroke="#b90a10" stroke-width="1.8"/>
<rect x="2843.5" y="1240.3" width="20" height="76.2" fill="#1a921a" stroke="none" stroke-width="1"/>
<rect x="2869" y="1233.4" width="20" height="83.1" fill="#1a921a" stroke="none" stroke-width="1"/>
<rect x="2895.2" y="1238.5" width="18.5" height="78" fill="#fff" stroke="#b90a10" stroke-width="1.8"/>
<rect x="2920" y="1232.2" width="20" height="84.3" fill="#1a921a" stroke="none" stroke-width="1"/>
<rect x="2946.2" y="1233.5" width="18.5" height="83" fill="#fff" stroke="#b90a10" stroke-width="1.8"/>
<rect x="2971" y="1229.4" width="20" height="87.1" fill="#1a921a" stroke="none" stroke-width="1"/>
<rect x="2996.5" y="1231" width="20" height="85.5" fill="#1a921a" stroke="none" stroke-width="1"/>
<rect x="3022" y="1232.5" width="20" height="84" fill="#1a921a" stroke="none" stroke-width="1"/>
<rect x="3048.2" y="1234.2" width="18.5" height="82.3" fill="#fff" stroke="#b90a10" stroke-width="1.8"/>
<rect x="3073" y="1232.4" width="20" height="84.1" fill="#1a921a" stroke="none" stroke-width="1"/>
<rect x="3099.2" y="1208.5" width="18.5" height="108" fill="#fff" stroke="#b90a10" stroke-width="1.8"/>
<rect x="3124.8" y="1199.3" width="18.5" height="117.2" fill="#fff" stroke="#b90a10" stroke-width="1.8"/>
<rect x="3150.2" y="1231.2" width="18.5" height="85.2" fill="#fff" stroke="#b90a10" stroke-width="1.8"/>
<rect x="3175" y="1230.5" width="20" height="86" fill="#1a921a" stroke="none" stroke-width="1"/>
<rect x="3200.5" y="1235.2" width="20" height="81.3" fill="#1a921a" stroke="none" stroke-width="1"/>
<rect x="3226" y="1230.5" width="20" height="86" fill="#1a921a" stroke="none" stroke-width="1"/>
<rect x="3252.2" y="1241.5" width="18.5" height="75" fill="#fff" stroke="#b90a10" stroke-width="1.8"/>
<rect x="3277.8" y="1244.7" width="18.5" height="71.8" fill="#fff" stroke="#b90a10" stroke-width="1.8"/>
<rect x="3302.5" y="1240.4" width="20" height="76.1" fill="#1a921a" stroke="none" stroke-width="1"/>
</g>
<polyline points="48.5,1185.5 74,1184.8 99.5,1184.1 125,1183.4 150.5,1182.7 176,1182 201.5,1181.4 227,1181.2 252.5,1181 278,1180.8 303.5,1180.7 329,1180.7 354.5,1180.7 380,1180.7 405.5,1180.7 431,1180.7 456.5,1180.7 482,1180.7 507.5,1180.7 533,1180.7 558.5,1180.7 584,1180.7 609.5,1180.7 635,1181 660.5,1181.7 686,1182.4 711.5,1182.8 737,1182.8 762.5,1182.8 788,1182.8 813.5,1184.2 839,1183.4 864.5,1182.8 890,1182.7 915.5,1182.7 941,1182.6 966.5,1182.6 992,1182.5 1017.5,1182.5 1043,1182.4 1068.5,1182.4 1094,1182.3 1119.5,1182.3 1145,1182.2 1170.5,1184.4 1196,1184.4 1221.5,1184.4 1247,1184.4 1272.5,1184.4 1298,1184.4 1323.5,1184.4 1349,1184.4 1374.5,1184.4 1400,1184.4 1425.5,1184.4 1451,1184.4 1476.5,1184.4 1502,1184.4 1527.5,1184.4 1553,1184.7 1578.5,1185.2 1604,1185.8 1629.5,1186.3 1655,1186.8 1680.5,1187.3 1706,1187.8 1731.5,1188.3 1757,1188.8 1782.5,1189.2 1808,1189.7 1833.5,1190.1 1859,1190.6 1884.5,1191 1910,1191.9 1935.5,1193 1961,1194.1 1986.5,1195.2 2012,1196 2037.5,1196.9 2063,1197.7 2088.5,1198.6 2114,1199.4 2139.5,1200.2 2165,1201.1 2190.5,1201.9 2216,1202.5 2241.5,1202.8 2267,1203.1 2292.5,1203.5 2318,1204 2343.5,1204.4 2369,1204.9 2394.5,1205.3 2420,1206.3 2445.5,1207.6 2471,1208.6 2496.5,1208.8 2522,1208.9 2547.5,1209 2573,1209.2 2598.5,1209.3 2624,1209.5 2649.5,1209.6 2675,1209.8 2700.5,1211.7 2726,1211.8 2751.5,1211.9 2777,1212 2802.5,1212.1 2828,1212.3 2853.5,1212.6 2879,1213.1 2904.5,1213.6 2930,1214.1 2955.5,1214.5 2981,1214.4 3006.5,1214.3 3032,1214.2 3057.5,1214.2 3083,1214.3 3108.5,1214.4 3134,1214.5 3159.5,1215 3185,1215.6 3210.5,1216.1 3236,1216.6 3261.5,1217 3287,1217.5 3312.5,1217.8 3338,1218.8" fill="none" stroke="#000" stroke-width="2.8" stroke-linejoin="round"/>
<polyline points="48.5,1167 74,1167 99.5,1167 125,1167 150.5,1167 176,1167 201.5,1167.6 227,1168.4 252.5,1169.2 278,1169.9 303.5,1170.7 329,1171.8 354.5,1172.9 380,1174 405.5,1175.2 431,1176.5 456.5,1177.8 482,1178.7 507.5,1179.5 533,1180.4 558.5,1181.9 584,1183.3 609.5,1184.6 635,1185.8 660.5,1187.1 686,1188.3 711.5,1189.4 737,1190.2 762.5,1191.1 788,1191.9 813.5,1192.6 839,1193.2 864.5,1193.9 890,1194.5 915.5,1195.2 941,1195.9 966.5,1196.7 992,1197.5 1017.5,1198.2 1043,1199 1068.5,1199.8 1094,1200 1119.5,1200.1 1145,1200.2 1170.5,1200.3 1196,1200.4 1221.5,1200.5 1247,1200.9 1272.5,1201.4 1298,1201.9 1323.5,1202.4 1349,1202.1 1374.5,1201.9 1400,1201.6 1425.5,1201.4 1451,1201 1476.5,1200.7 1502,1200.9 1527.5,1201.7 1553,1201.5 1578.5,1202.1 1604,1203.1 1629.5,1203.9 1655,1205.2 1680.5,1206.3 1706,1207.3 1731.5,1207.8 1757,1208.6 1782.5,1209.3 1808,1210.1 1833.5,1210.7 1859,1210.9 1884.5,1211.8 1910,1212.4 1935.5,1212.7 1961,1213 1986.5,1213 2012,1213.2 2037.5,1213.1 2063,1213.3 2088.5,1213.9 2114,1214.3 2139.5,1214.6 2165,1214.7 2190.5,1214.4 2216,1214.5 2241.5,1214.5 2267,1214.2 2292.5,1215.1 2318,1215.2 2343.5,1214.9 2369,1215.5 2394.5,1217 2420,1217.7 2445.5,1218.2 2471,1218.7 2496.5,1219.3 2522,1219.6 2547.5,1219.7 2573,1219.6 2598.5,1219.6 2624,1220 2649.5,1220.2 2675,1220.2 2700.5,1220.4 2726,1220.7 2751.5,1220.8 2777,1220.9 2802.5,1221.4 2828,1221.6 2853.5,1222.1 2879,1222.3 2904.5,1224 2930,1225 2955.5,1225.6 2981,1225.9 3006.5,1226 3032,1226.7 3057.5,1227 3083,1227 3108.5,1226.7 3134,1225.9 3159.5,1226.1 3185,1226 3210.5,1225.9 3236,1225.8 3261.5,1226.2 3287,1226.4 3312.5,1226.3 3338,1227.4" fill="none" stroke="#ff7d19" stroke-width="2.8" stroke-linejoin="round"/>
<polyline points="48.5,1172.9 74,1174.4 99.5,1176 125,1177.3 150.5,1178.2 176,1179.1 201.5,1180 227,1181.2 252.5,1182.8 278,1184.5 303.5,1186.1 329,1186.8 354.5,1187.5 380,1188.2 405.5,1190.2 431,1192.3 456.5,1194.4 482,1195.3 507.5,1195.6 533,1195.9 558.5,1196.2 584,1196.9 609.5,1198.2 635,1199.2 660.5,1199.7 686,1200.2 711.5,1201.2 737,1202.3 762.5,1202.1 788,1201.8 813.5,1201.6 839,1200.8 864.5,1199.5 890,1198.2 915.5,1196.9 941,1196.9 966.5,1197 992,1197.2 1017.5,1197.3 1043,1197.2 1068.5,1197.8 1094,1198.3 1119.5,1199.5 1145,1200.8 1170.5,1202.1 1196,1203.3 1221.5,1204.3 1247,1205.3 1272.5,1205.5 1298,1206 1323.5,1206.1 1349,1206.6 1374.5,1205.5 1400,1204.9 1425.5,1204.5 1451,1204.3 1476.5,1204.4 1502,1203.7 1527.5,1203.7 1553,1204.3 1578.5,1205.2 1604,1206.4 1629.5,1206.3 1655,1206.6 1680.5,1206.8 1706,1207.1 1731.5,1206.8 1757,1206.7 1782.5,1208.9 1808,1209.8 1833.5,1210.6 1859,1212.1 1884.5,1214.9 1910,1216.5 1935.5,1217.1 1961,1218.1 1986.5,1219.9 2012,1220.8 2037.5,1221 2063,1220.8 2088.5,1220.9 2114,1221.3 2139.5,1222 2165,1222.3 2190.5,1222.1 2216,1222.2 2241.5,1222.4 2267,1222.3 2292.5,1222.2 2318,1222.1 2343.5,1221.8 2369,1220.9 2394.5,1222.7 2420,1223.9 2445.5,1224.8 2471,1225.2 2496.5,1224.2 2522,1224.7 2547.5,1224.5 2573,1224.2 2598.5,1224.1 2624,1223.7 2649.5,1223.9 2675,1223.4 2700.5,1223.3 2726,1223.5 2751.5,1223.8 2777,1223.6 2802.5,1223.6 2828,1223.4 2853.5,1223.3 2879,1223.8 2904.5,1223.9 2930,1223.7 2955.5,1223.8 2981,1223.6 3006.5,1223.9 3032,1224 3057.5,1224.4 3083,1224.9 3108.5,1224.5 3134,1223.8 3159.5,1223.6 3185,1223.6 3210.5,1224 3236,1224.1 3261.5,1224.3 3287,1225 3312.5,1225.8 3338,1228.1" fill="none" stroke="#0098ff" stroke-width="2.8" stroke-linejoin="round"/>
<polyline points="48.5,1200 74,1198.5 99.5,1197.1 125,1195.2 150.5,1192.9 176,1191.1 201.5,1190.3 227,1189.7 252.5,1190.2 278,1190.6 303.5,1191 329,1191 354.5,1191 380,1191 405.5,1192.3 431,1193.9 456.5,1195.4 482,1196 507.5,1196.1 533,1196 558.5,1195.8 584,1196.4 609.5,1199.2 635,1202.2 660.5,1205.3 686,1207.7 711.5,1210 737,1212.5 762.5,1210.2 788,1210.7 813.5,1211 839,1208.3 864.5,1205.4 890,1204.4 915.5,1203.9 941,1202.9 966.5,1199.1 992,1197.9 1017.5,1197.3 1043,1198.3 1068.5,1199.9 1094,1200.3 1119.5,1199.8 1145,1199.5 1170.5,1199 1196,1199 1221.5,1198.7 1247,1198.1 1272.5,1200.7 1298,1201.4 1323.5,1201.3 1349,1204.9 1374.5,1205.6 1400,1205.5 1425.5,1205 1451,1205.8 1476.5,1209.6 1502,1209.4 1527.5,1210.1 1553,1210.3 1578.5,1210.6 1604,1212.5 1629.5,1212.8 1655,1213.8 1680.5,1214.6 1706,1215.2 1731.5,1214.9 1757,1215.3 1782.5,1217.1 1808,1218.2 1833.5,1219.9 1859,1219.4 1884.5,1224.2 1910,1227.5 1935.5,1229.2 1961,1230.4 1986.5,1230.2 2012,1232.2 2037.5,1232 2063,1231.3 2088.5,1231.2 2114,1230.2 2139.5,1231.2 2165,1230.7 2190.5,1229.5 2216,1229.2 2241.5,1229.9 2267,1229.2 2292.5,1227.4 2318,1226.1 2343.5,1223.7 2369,1222.3 2394.5,1221.2 2420,1220.2 2445.5,1220.5 2471,1220.1 2496.5,1218.1 2522,1217.1 2547.5,1217 2573,1217.2 2598.5,1217.1 2624,1217.2 2649.5,1216.7 2675,1216 2700.5,1217 2726,1217.8 2751.5,1217.6 2777,1218.1 2802.5,1219.9 2828,1220.6 2853.5,1222.9 2879,1225.2 2904.5,1226.6 2930,1227.2 2955.5,1227 2981,1227.2 3006.5,1229.7 3032,1230.8 3057.5,1231.8 3083,1232.7 3108.5,1231.8 3134,1230.4 3159.5,1230.5 3185,1231.1 3210.5,1231 3236,1230.5 3261.5,1231 3287,1231.9 3312.5,1231.7 3338,1235.5" fill="none" stroke="#00e6f8" stroke-width="2.8" stroke-linejoin="round"/>
<polyline points="48.5,1196.3 74,1194.7 99.5,1193.1 125,1190.8 150.5,1188 176,1185.3 201.5,1183.9 227,1185.4 252.5,1187 278,1183.9 303.5,1185.1 329,1186.9 354.5,1188.2 380,1191.5 405.5,1195.6 431,1199.8 456.5,1203.4 482,1206.7 507.5,1208.5 533,1208.1 558.5,1206.4 584,1205.8 609.5,1210.2 635,1212.9 660.5,1214.9 686,1215.5 711.5,1216.5 737,1218.3 762.5,1211.9 788,1213.2 813.5,1215.5 839,1210.7 864.5,1200.7 890,1195.8 915.5,1192.9 941,1190.2 966.5,1181.7 992,1177.6 1017.5,1182.6 1043,1183.5 1068.5,1184.3 1094,1189.9 1119.5,1198.9 1145,1203.1 1170.5,1205.1 1196,1207.8 1221.5,1215.6 1247,1218.6 1272.5,1218.8 1298,1219.4 1323.5,1218.2 1349,1219.8 1374.5,1212.3 1400,1207.9 1425.5,1204.9 1451,1203.7 1476.5,1203.6 1502,1200.3 1527.5,1201.3 1553,1201.1 1578.5,1202.9 1604,1205.2 1629.5,1213.3 1655,1219.8 1680.5,1224.4 1706,1226.7 1731.5,1226.2 1757,1230.4 1782.5,1232.8 1808,1235.3 1833.5,1236.8 1859,1233.6 1884.5,1235.1 1910,1235.2 1935.5,1234 1961,1234.1 1986.5,1234.3 2012,1234 2037.5,1231.2 2063,1227.2 2088.5,1225.5 2114,1226.7 2139.5,1227.3 2165,1226.3 2190.5,1225.1 2216,1224.2 2241.5,1225.5 2267,1224.4 2292.5,1223.5 2318,1224.9 2343.5,1221.8 2369,1217.9 2394.5,1215.1 2420,1214.2 2445.5,1216 2471,1216 2496.5,1210.6 2522,1209.9 2547.5,1210.6 2573,1209.5 2598.5,1212.4 2624,1216.5 2649.5,1218.2 2675,1217.9 2700.5,1218.1 2726,1219.6 2751.5,1224.7 2777,1226.2 2802.5,1229.2 2828,1231.8 2853.5,1233.4 2879,1233.9 2904.5,1235 2930,1236.4 2955.5,1236 2981,1234.8 3006.5,1234.7 3032,1235.4 3057.5,1234.4 3083,1233.5 3108.5,1230.3 3134,1226.8 3159.5,1226 3185,1225.9 3210.5,1226.1 3236,1226.2 3261.5,1227.2 3287,1228.3 3312.5,1229 3338,1237.5" fill="none" stroke="#00e600" stroke-width="2.8" stroke-linejoin="round"/>
<rect x="3221" y="1092" width="162" height="30.5" fill="#000" stroke="none" stroke-width="1"/>
<text x="3302" y="1108" font-size="19" fill="#666" text-anchor="middle" dominant-baseline="central">金额</text>
<path d="M3362,1104 L3374,1104 L3368,1112 Z" fill="#ccc"/>
<polyline points="48.5,1482 74,1469.8 99.5,1435.5 125,1395.4 150.5,1378.6 176,1370.2 201.5,1392.6 227,1431.4 252.5,1441.5 278,1450.6 303.5,1466.3 329,1466.3 354.5,1444.3 380,1424.4 405.5,1425.8 431,1439 456.5,1456.5 482,1467 507.5,1460 533,1470.5 558.5,1447.8 584,1431.4 609.5,1436.6 635,1443.6 660.5,1451.3 686,1470.5 711.5,1482.7 737,1501.9 762.5,1432.1 788,1391.9 813.5,1377.2 839,1351.7 864.5,1348.9 890,1349.9 915.5,1360.4 941,1358.7 966.5,1349.2 992,1352.7 1017.5,1362.2 1043,1369.9 1068.5,1372.7 1094,1406.5 1119.5,1435.5 1145,1460 1170.5,1487.3 1196,1496 1221.5,1514.9 1247,1529.9 1272.5,1526.4 1298,1535.8 1323.5,1535.8 1349,1541.4 1374.5,1532.3 1400,1517 1425.5,1508.2 1451,1508.2 1476.5,1496 1502,1472.2 1527.5,1461 1553,1457.6 1578.5,1469.8 1604,1481 1629.5,1477.5 1655,1476.4 1680.5,1486.2 1706,1494.2 1731.5,1511.4 1757,1511.4 1782.5,1514.9 1808,1522.9 1833.5,1535.1 1859,1514.9 1884.5,1506.5 1910,1510.7 1935.5,1508.9 1961,1514.2 1986.5,1511.7 2012,1520.5 2037.5,1520.5 2063,1499.1 2088.5,1505.4 2114,1516.6 2139.5,1518.4 2165,1529.9 2190.5,1539.3 2216,1542.1 2241.5,1541.1 2267,1535.1 2292.5,1526.4 2318,1517.7 2343.5,1496 2369,1475 2394.5,1464.5 2420,1457.2 2445.5,1455.5 2471,1443.6 2496.5,1419.1 2522,1407.6 2547.5,1403 2573,1389.4 2598.5,1389.4 2624,1385.9 2649.5,1378.6 2675,1362.2 2700.5,1368.1 2726,1374 2751.5,1375.5 2777,1377.5 2802.5,1400.6 2828,1409.4 2853.5,1451.3 2879,1475.8 2904.5,1486.7 2930,1508.2 2955.5,1515 2981,1515 3006.5,1526.8 3032,1536.3 3057.5,1537.7 3083,1536.3 3108.5,1533.3 3134,1518.6 3159.5,1505.3 3185,1513.3 3210.5,1525.9 3236,1537.7 3261.5,1540.7 3287,1539.2 3312.5,1545.1 3338,1550.1" fill="none" stroke="#ff2e2e" stroke-width="2.8" stroke-linejoin="round"/>
<polyline points="48.5,1501.9 74,1491.4 99.5,1473.3 125,1449.5 150.5,1425.1 176,1406.5 201.5,1401.7 227,1413.5 252.5,1421.6 278,1430.3 303.5,1443.6 329,1451.3 354.5,1447.8 380,1440.1 405.5,1434.5 431,1436.6 456.5,1442.5 482,1452 507.5,1454.1 533,1460 558.5,1454.8 584,1447.8 609.5,1445.3 635,1445.3 660.5,1447.8 686,1454.8 711.5,1463.5 737,1476.4 762.5,1461 788,1436.6 813.5,1418.1 839,1396.1 864.5,1379.6 890,1370.2 915.5,1367.4 941,1363.9 966.5,1359.4 992,1357.6 1017.5,1358.7 1043,1362.9 1068.5,1365.7 1094,1379 1119.5,1397.1 1145,1418.1 1170.5,1442.5 1196,1461 1221.5,1479.2 1247,1496 1272.5,1506.5 1298,1517 1323.5,1523.6 1349,1529.2 1374.5,1529.9 1400,1525.7 1425.5,1520.5 1451,1515.2 1476.5,1509.6 1502,1498.4 1527.5,1486.2 1553,1475.7 1578.5,1473.3 1604,1475.7 1629.5,1476.4 1655,1476.4 1680.5,1479.2 1706,1486.2 1731.5,1493.9 1757,1499.1 1782.5,1503.7 1808,1510.7 1833.5,1518.4 1859,1517.7 1884.5,1514.2 1910,1512.4 1935.5,1512.4 1961,1512.4 1986.5,1512.4 2012,1514.9 2037.5,1517 2063,1511.4 2088.5,1509.6 2114,1511.7 2139.5,1514.2 2165,1521.1 2190.5,1527.4 2216,1532.7 2241.5,1535.1 2267,1535.1 2292.5,1532.3 2318,1527.4 2343.5,1517 2369,1503.7 2394.5,1491.4 2420,1479.9 2445.5,1470.5 2471,1461.7 2496.5,1448.5 2522,1435.5 2547.5,1424 2573,1412.8 2598.5,1405.1 2624,1398.9 2649.5,1392.5 2675,1382.3 2700.5,1377 2726,1377 2751.5,1376.4 2777,1377 2802.5,1385.2 2828,1392.3 2853.5,1413.8 2879,1436 2904.5,1453.7 2930,1469.9 2955.5,1485.5 2981,1495.6 3006.5,1504.4 3032,1513.3 3057.5,1523 3083,1526.8 3108.5,1528.9 3134,1525.9 3159.5,1518.6 3185,1518.6 3210.5,1520.9 3236,1525.9 3261.5,1531.8 3287,1533.3 3312.5,1537.7 3338,1542.2" fill="none" stroke="#00e6f8" stroke-width="2.8" stroke-linejoin="round"/>
<rect x="3284.5" y="1320" width="98.5" height="28" fill="#000" stroke="none" stroke-width="1"/>
<text x="3334" y="1334.5" font-size="19" fill="#555" text-anchor="middle" dominant-baseline="central">指标说明</text>
<line x1="48.5" y1="1694" x2="48.5" y2="1642.6" stroke="#b90a10" stroke-width="3"/>
<line x1="74" y1="1694" x2="74" y2="1633.9" stroke="#b90a10" stroke-width="3"/>
<line x1="99.5" y1="1694" x2="99.5" y2="1606.6" stroke="#b90a10" stroke-width="3"/>
<line x1="125" y1="1694" x2="125" y2="1583.2" stroke="#b90a10" stroke-width="3"/>
<line x1="150.5" y1="1694" x2="150.5" y2="1582.5" stroke="#b90a10" stroke-width="3"/>
<line x1="176" y1="1694" x2="176" y2="1592.6" stroke="#b90a10" stroke-width="3"/>
<line x1="201.5" y1="1694" x2="201.5" y2="1625.1" stroke="#b90a10" stroke-width="3"/>
<line x1="227" y1="1694" x2="227" y2="1667.7" stroke="#b90a10" stroke-width="3"/>
<line x1="252.5" y1="1694" x2="252.5" y2="1681.7" stroke="#b90a10" stroke-width="3"/>
<line x1="278" y1="1694" x2="278" y2="1691.5" stroke="#b90a10" stroke-width="3"/>
<line x1="303.5" y1="1694" x2="303.5" y2="1704.8" stroke="#1a921a" stroke-width="3"/>
<line x1="329" y1="1694" x2="329" y2="1702" stroke="#1a921a" stroke-width="3"/>
<line x1="354.5" y1="1694" x2="354.5" y2="1679.3" stroke="#b90a10" stroke-width="3"/>
<line x1="380" y1="1694" x2="380" y2="1666.4" stroke="#b90a10" stroke-width="3"/>
<line x1="405.5" y1="1694" x2="405.5" y2="1669.5" stroke="#b90a10" stroke-width="3"/>
<line x1="431" y1="1694" x2="431" y2="1681.7" stroke="#b90a10" stroke-width="3"/>
<line x1="456.5" y1="1694" x2="456.5" y2="1695" stroke="#1a921a" stroke-width="3"/>
<line x1="482" y1="1694" x2="482" y2="1697.8" stroke="#1a921a" stroke-width="3"/>
<line x1="507.5" y1="1694" x2="507.5" y2="1685.2" stroke="#b90a10" stroke-width="3"/>
<line x1="533" y1="1694" x2="533" y2="1690.5" stroke="#b90a10" stroke-width="3"/>
<line x1="558.5" y1="1694" x2="558.5" y2="1672.3" stroke="#b90a10" stroke-width="3"/>
<line x1="584" y1="1694" x2="584" y2="1661.8" stroke="#b90a10" stroke-width="3"/>
<line x1="609.5" y1="1694" x2="609.5" y2="1669.5" stroke="#b90a10" stroke-width="3"/>
<line x1="635" y1="1694" x2="635" y2="1678.6" stroke="#b90a10" stroke-width="3"/>
<line x1="660.5" y1="1694" x2="660.5" y2="1687.3" stroke="#b90a10" stroke-width="3"/>
<line x1="686" y1="1694" x2="686" y2="1703.7" stroke="#1a921a" stroke-width="3"/>
<line x1="711.5" y1="1694" x2="711.5" y2="1710.7" stroke="#1a921a" stroke-width="3"/>
<line x1="737" y1="1694" x2="737" y2="1721.2" stroke="#1a921a" stroke-width="3"/>
<line x1="762.5" y1="1694" x2="762.5" y2="1682.8" stroke="#b90a10" stroke-width="3"/>
<line x1="788" y1="1694" x2="788" y2="1664.3" stroke="#b90a10" stroke-width="3"/>
<line x1="813.5" y1="1694" x2="813.5" y2="1657.6" stroke="#b90a10" stroke-width="3"/>
<line x1="839" y1="1694" x2="839" y2="1621.6" stroke="#b90a10" stroke-width="3"/>
<line x1="864.5" y1="1694" x2="864.5" y2="1597.2" stroke="#b90a10" stroke-width="3"/>
<line x1="890" y1="1694" x2="890" y2="1595.4" stroke="#b90a10" stroke-width="3"/>
<line x1="915.5" y1="1694" x2="915.5" y2="1614.6" stroke="#b90a10" stroke-width="3"/>
<line x1="941" y1="1694" x2="941" y2="1615.7" stroke="#b90a10" stroke-width="3"/>
<line x1="966.5" y1="1694" x2="966.5" y2="1618.8" stroke="#b90a10" stroke-width="3"/>
<line x1="992" y1="1694" x2="992" y2="1636.7" stroke="#b90a10" stroke-width="3"/>
<line x1="1017.5" y1="1694" x2="1017.5" y2="1657.6" stroke="#b90a10" stroke-width="3"/>
<line x1="1043" y1="1694" x2="1043" y2="1678.6" stroke="#b90a10" stroke-width="3"/>
<line x1="1068.5" y1="1694" x2="1068.5" y2="1690.5" stroke="#b90a10" stroke-width="3"/>
<line x1="1094" y1="1694" x2="1094" y2="1733.4" stroke="#1a921a" stroke-width="3"/>
<line x1="1119.5" y1="1694" x2="1119.5" y2="1767.7" stroke="#1a921a" stroke-width="3"/>
<line x1="1145" y1="1694" x2="1145" y2="1788.6" stroke="#1a921a" stroke-width="3"/>
<line x1="1170.5" y1="1694" x2="1170.5" y2="1806.8" stroke="#1a921a" stroke-width="3"/>
<line x1="1196" y1="1694" x2="1196" y2="1805.8" stroke="#1a921a" stroke-width="3"/>
<line x1="1221.5" y1="1694" x2="1221.5" y2="1814.5" stroke="#1a921a" stroke-width="3"/>
<line x1="1247" y1="1694" x2="1247" y2="1832.3" stroke="#1a921a" stroke-width="3"/>
<line x1="1272.5" y1="1694" x2="1272.5" y2="1821.5" stroke="#1a921a" stroke-width="3"/>
<line x1="1298" y1="1694" x2="1298" y2="1829.5" stroke="#1a921a" stroke-width="3"/>
<line x1="1323.5" y1="1694" x2="1323.5" y2="1814.5" stroke="#1a921a" stroke-width="3"/>
<line x1="1349" y1="1694" x2="1349" y2="1799.8" stroke="#1a921a" stroke-width="3"/>
<line x1="1374.5" y1="1694" x2="1374.5" y2="1766.6" stroke="#1a921a" stroke-width="3"/>
<line x1="1400" y1="1694" x2="1400" y2="1725.7" stroke="#1a921a" stroke-width="3"/>
<line x1="1425.5" y1="1694" x2="1425.5" y2="1697.5" stroke="#1a921a" stroke-width="3"/>
<line x1="1451" y1="1694" x2="1451" y2="1685.6" stroke="#b90a10" stroke-width="3"/>
<line x1="1476.5" y1="1694" x2="1476.5" y2="1667" stroke="#b90a10" stroke-width="3"/>
<line x1="1502" y1="1694" x2="1502" y2="1634.6" stroke="#b90a10" stroke-width="3"/>
<line x1="1527.5" y1="1694" x2="1527.5" y2="1627.6" stroke="#b90a10" stroke-width="3"/>
<line x1="1553" y1="1694" x2="1553" y2="1627.6" stroke="#b90a10" stroke-width="3"/>
<line x1="1578.5" y1="1694" x2="1578.5" y2="1649.6" stroke="#b90a10" stroke-width="3"/>
<line x1="1604" y1="1694" x2="1604" y2="1670.5" stroke="#b90a10" stroke-width="3"/>
<line x1="1629.5" y1="1694" x2="1629.5" y2="1673.3" stroke="#b90a10" stroke-width="3"/>
<line x1="1655" y1="1694" x2="1655" y2="1676.5" stroke="#b90a10" stroke-width="3"/>
<line x1="1680.5" y1="1694" x2="1680.5" y2="1687.3" stroke="#b90a10" stroke-width="3"/>
<line x1="1731.5" y1="1694" x2="1731.5" y2="1704.4" stroke="#1a921a" stroke-width="3"/>
<line x1="1757" y1="1694" x2="1757" y2="1702" stroke="#1a921a" stroke-width="3"/>
<line x1="1782.5" y1="1694" x2="1782.5" y2="1702" stroke="#1a921a" stroke-width="3"/>
<line x1="1808" y1="1694" x2="1808" y2="1703.7" stroke="#1a921a" stroke-width="3"/>
<line x1="1833.5" y1="1694" x2="1833.5" y2="1716" stroke="#1a921a" stroke-width="3"/>
<line x1="1884.5" y1="1694" x2="1884.5" y2="1689.1" stroke="#b90a10" stroke-width="3"/>
<line x1="1910" y1="1694" x2="1910" y2="1691.9" stroke="#b90a10" stroke-width="3"/>
<line x1="1935.5" y1="1694" x2="1935.5" y2="1689.1" stroke="#b90a10" stroke-width="3"/>
<line x1="1961" y1="1694" x2="1961" y2="1690.8" stroke="#b90a10" stroke-width="3"/>
<line x1="1986.5" y1="1694" x2="1986.5" y2="1690.8" stroke="#b90a10" stroke-width="3"/>
<line x1="2012" y1="1694" x2="2012" y2="1701" stroke="#1a921a" stroke-width="3"/>
<line x1="2037.5" y1="1694" x2="2037.5" y2="1701" stroke="#1a921a" stroke-width="3"/>
<line x1="2063" y1="1694" x2="2063" y2="1684.5" stroke="#b90a10" stroke-width="3"/>
<line x1="2088.5" y1="1694" x2="2088.5" y2="1687.3" stroke="#b90a10" stroke-width="3"/>
<line x1="2114" y1="1694" x2="2114" y2="1703.7" stroke="#1a921a" stroke-width="3"/>
<line x1="2139.5" y1="1694" x2="2139.5" y2="1704.8" stroke="#1a921a" stroke-width="3"/>
<line x1="2165" y1="1694" x2="2165" y2="1713.5" stroke="#1a921a" stroke-width="3"/>
<line x1="2190.5" y1="1694" x2="2190.5" y2="1743.9" stroke="#1a921a" stroke-width="3"/>
<line x1="2216" y1="1694" x2="2216" y2="1764.9" stroke="#1a921a" stroke-width="3"/>
<line x1="2241.5" y1="1694" x2="2241.5" y2="1782.4" stroke="#1a921a" stroke-width="3"/>
<line x1="2267" y1="1694" x2="2267" y2="1781.3" stroke="#1a921a" stroke-width="3"/>
<line x1="2292.5" y1="1694" x2="2292.5" y2="1764.9" stroke="#1a921a" stroke-width="3"/>
<line x1="2318" y1="1694" x2="2318" y2="1743.9" stroke="#1a921a" stroke-width="3"/>
<line x1="2343.5" y1="1694" x2="2343.5" y2="1707.2" stroke="#1a921a" stroke-width="3"/>
<line x1="2369" y1="1694" x2="2369" y2="1673" stroke="#b90a10" stroke-width="3"/>
<line x1="2394.5" y1="1694" x2="2394.5" y2="1654.8" stroke="#b90a10" stroke-width="3"/>
<line x1="2420" y1="1694" x2="2420" y2="1643.6" stroke="#b90a10" stroke-width="3"/>
<line x1="2445.5" y1="1694" x2="2445.5" y2="1643.6" stroke="#b90a10" stroke-width="3"/>
<line x1="2471" y1="1694" x2="2471" y2="1633.9" stroke="#b90a10" stroke-width="3"/>
<line x1="2496.5" y1="1694" x2="2496.5" y2="1610.4" stroke="#b90a10" stroke-width="3"/>
<line x1="2522" y1="1694" x2="2522" y2="1604.9" stroke="#b90a10" stroke-width="3"/>
<line x1="2547.5" y1="1694" x2="2547.5" y2="1607.7" stroke="#b90a10" stroke-width="3"/>
<line x1="2573" y1="1694" x2="2573" y2="1613.9" stroke="#b90a10" stroke-width="3"/>
<line x1="2598.5" y1="1694" x2="2598.5" y2="1629.3" stroke="#b90a10" stroke-width="3"/>
<line x1="2624" y1="1694" x2="2624" y2="1645.4" stroke="#b90a10" stroke-width="3"/>
<line x1="2649.5" y1="1694" x2="2649.5" y2="1654.7" stroke="#b90a10" stroke-width="3"/>
<line x1="2675" y1="1694" x2="2675" y2="1652.7" stroke="#b90a10" stroke-width="3"/>
<line x1="2700.5" y1="1694" x2="2700.5" y2="1667.1" stroke="#b90a10" stroke-width="3"/>
<line x1="2726" y1="1694" x2="2726" y2="1676.9" stroke="#b90a10" stroke-width="3"/>
<line x1="2751.5" y1="1694" x2="2751.5" y2="1679.8" stroke="#b90a10" stroke-width="3"/>
<line x1="2777" y1="1694" x2="2777" y2="1681.9" stroke="#b90a10" stroke-width="3"/>
<line x1="2828" y1="1694" x2="2828" y2="1697.5" stroke="#1a921a" stroke-width="3"/>
<line x1="2853.5" y1="1694" x2="2853.5" y2="1704.9" stroke="#1a921a" stroke-width="3"/>
<line x1="2879" y1="1694" x2="2879" y2="1718.2" stroke="#1a921a" stroke-width="3"/>
<line x1="2904.5" y1="1694" x2="2904.5" y2="1722" stroke="#1a921a" stroke-width="3"/>
<line x1="2930" y1="1694" x2="2930" y2="1730.6" stroke="#1a921a" stroke-width="3"/>
<line x1="2955.5" y1="1694" x2="2955.5" y2="1730.6" stroke="#1a921a" stroke-width="3"/>
<line x1="2981" y1="1694" x2="2981" y2="1732" stroke="#1a921a" stroke-width="3"/>
<line x1="3006.5" y1="1694" x2="3006.5" y2="1736.8" stroke="#1a921a" stroke-width="3"/>
<line x1="3032" y1="1694" x2="3032" y2="1758.9" stroke="#1a921a" stroke-width="3"/>
<line x1="3057.5" y1="1694" x2="3057.5" y2="1764.8" stroke="#1a921a" stroke-width="3"/>
<line x1="3083" y1="1694" x2="3083" y2="1764.8" stroke="#1a921a" stroke-width="3"/>
<line x1="3108.5" y1="1694" x2="3108.5" y2="1754.5" stroke="#1a921a" stroke-width="3"/>
<line x1="3134" y1="1694" x2="3134" y2="1735" stroke="#1a921a" stroke-width="3"/>
<line x1="3159.5" y1="1694" x2="3159.5" y2="1716.1" stroke="#1a921a" stroke-width="3"/>
<line x1="3185" y1="1694" x2="3185" y2="1722" stroke="#1a921a" stroke-width="3"/>
<line x1="3210.5" y1="1694" x2="3210.5" y2="1726.1" stroke="#1a921a" stroke-width="3"/>
<line x1="3236" y1="1694" x2="3236" y2="1727.9" stroke="#1a921a" stroke-width="3"/>
<line x1="3261.5" y1="1694" x2="3261.5" y2="1727.9" stroke="#1a921a" stroke-width="3"/>
<line x1="3287" y1="1694" x2="3287" y2="1722" stroke="#1a921a" stroke-width="3"/>
<line x1="3312.5" y1="1694" x2="3312.5" y2="1726.1" stroke="#1a921a" stroke-width="3"/>
<line x1="3338" y1="1694" x2="3338" y2="1723.2" stroke="#1a921a" stroke-width="3"/>
<polyline points="48.5,1763.1 74,1750.9 99.5,1724.7 125,1699.5 150.5,1688 176,1680.3 201.5,1688 227,1707.2 252.5,1711.8 278,1716 303.5,1724 329,1724 354.5,1711.4 380,1700.9 405.5,1700.9 431,1706.5 456.5,1713.2 482,1713.2 507.5,1709.7 533,1710.7 558.5,1698.5 584,1689.8 609.5,1690.8 635,1693.3 660.5,1696.8 686,1705.5 711.5,1711.8 737,1721.2 762.5,1700.2 788,1688 813.5,1680 839,1653.1 864.5,1628.6 890,1617.1 915.5,1613.9 941,1607.7 966.5,1598.9 992,1602.4 1017.5,1607.7 1043,1615.3 1068.5,1622.7 1094,1649.6 1119.5,1677.5 1145,1696.8 1170.5,1721.2 1196,1733.4 1221.5,1755.5 1247,1780.6 1272.5,1790.4 1298,1812.1 1323.5,1820.8 1349,1826 1374.5,1818.3 1400,1801.6 1425.5,1787.6 1451,1782.4 1476.5,1769.1 1502,1746.4 1527.5,1734.5 1553,1727.5 1578.5,1733.4 1604,1740.4 1629.5,1739.4 1655,1739.4 1680.5,1742.9 1706,1745.7 1731.5,1753.7 1757,1753.7 1782.5,1754.4 1808,1756.8 1833.5,1765.9 1859,1756.1 1884.5,1752 1910,1752.7 1935.5,1752 1961,1752 1986.5,1752 2012,1757.9 2037.5,1757.9 2063,1749.2 2088.5,1750.9 2114,1759.6 2139.5,1763.1 2165,1769.4 2190.5,1790.4 2216,1808.6 2241.5,1829.5 2267,1840.7 2292.5,1840.7 2318,1838.3 2343.5,1819 2369,1802.3 2394.5,1787.6 2420,1776.4 2445.5,1770.1 2471,1756.8 2496.5,1736.2 2522,1721.9 2547.5,1713.5 2573,1706.5 2598.5,1706.5 2624,1709 2649.5,1709.2 2675,1703.4 2700.5,1706.4 2726,1710.2 2751.5,1710.2 2777,1709.3 2802.5,1716.1 2828,1716.7 2853.5,1722.6 2879,1732.9 2904.5,1737.3 2930,1747.7 2955.5,1751.5 2981,1757.4 3006.5,1764.8 3032,1785.1 3057.5,1796.3 3083,1805.2 3108.5,1807.6 3134,1802.2 3159.5,1796.3 3185,1802.2 3210.5,1809.6 3236,1814.6 3261.5,1818.5 3287,1820.8 3312.5,1826.4 3338,1827.3" fill="none" stroke="#ff2e2e" stroke-width="2.8" stroke-linejoin="round"/>
<polyline points="48.5,1787.6 74,1780.6 99.5,1768.4 125,1753.7 150.5,1740.4 176,1728.9 201.5,1720.5 227,1718.4 252.5,1718.4 278,1716.7 303.5,1718.8 329,1719.5 354.5,1717.7 380,1714.2 405.5,1711.4 431,1710 456.5,1712.5 482,1712.5 507.5,1711.4 533,1710 558.5,1709 584,1703.7 609.5,1701.3 635,1700.2 660.5,1700.2 686,1700.9 711.5,1702.7 737,1705.5 762.5,1706.2 788,1701.3 813.5,1698.5 839,1689.8 864.5,1676.8 890,1663.6 915.5,1654.8 941,1646.1 966.5,1637.4 992,1628.6 1017.5,1624.4 1043,1622.7 1068.5,1622.7 1094,1628.6 1119.5,1637.4 1145,1649.6 1170.5,1665.3 1196,1677.5 1221.5,1693.3 1247,1710 1272.5,1728.2 1298,1743.2 1323.5,1758.9 1349,1772.9 1374.5,1781.3 1400,1784.8 1425.5,1785.2 1451,1784.8 1476.5,1782.4 1502,1775.4 1527.5,1767.3 1553,1758.9 1578.5,1754.4 1604,1750.9 1629.5,1748.5 1655,1746.7 1680.5,1746.4 1706,1746.7 1731.5,1748.5 1757,1749.9 1782.5,1750.9 1808,1751.6 1833.5,1754.4 1859,1754.4 1884.5,1753.7 1910,1753.7 1935.5,1753.4 1961,1753.4 1986.5,1753.4 2012,1754.4 2037.5,1755.5 2063,1753.7 2088.5,1753.4 2114,1755.5 2139.5,1757.2 2165,1758.9 2190.5,1766.6 2216,1775.4 2241.5,1785.9 2267,1796.3 2292.5,1805.1 2318,1812.1 2343.5,1814.5 2369,1810.3 2394.5,1805.1 2420,1799.1 2445.5,1793.5 2471,1787.6 2496.5,1777.1 2522,1766.6 2547.5,1756.1 2573,1745.7 2598.5,1736.9 2624,1731 2649.5,1728.5 2675,1722 2700.5,1719 2726,1718.2 2751.5,1716.1 2777,1715.2 2802.5,1715.2 2828,1715.2 2853.5,1716.7 2879,1719.6 2904.5,1724.7 2930,1729.1 2955.5,1733.5 2981,1737.3 3006.5,1743.2 3032,1752.1 3057.5,1761.8 3083,1769.8 3108.5,1778.1 3134,1782.2 3159.5,1785.1 3185,1788.4 3210.5,1793.4 3236,1797.8 3261.5,1802.2 3287,1805.2 3312.5,1809 3338,1812" fill="none" stroke="#00e6f8" stroke-width="2.8" stroke-linejoin="round"/>
<rect x="3284.5" y="1553.5" width="98.5" height="28" fill="#000" stroke="none" stroke-width="1"/>
<text x="3334" y="1568" font-size="19" fill="#555" text-anchor="middle" dominant-baseline="central">指标说明</text>
<line x1="34" y1="28" x2="34" y2="1845" stroke="#000" stroke-width="2.5"/>
<line x1="3382.5" y1="28" x2="3382.5" y2="1845" stroke="#000" stroke-width="2"/>
<line x1="33" y1="1843" x2="3383" y2="1843" stroke="#000" stroke-width="2.5"/>
<text x="36.8" y="45" font-size="20" fill="#1aa3b8" text-anchor="start" dominant-baseline="central" textLength="84.9" lengthAdjust="spacingAndGlyphs">日线(复权)</text>
<text x="135.4" y="45" font-size="20" fill="#007d8f" text-anchor="start" dominant-baseline="central" textLength="69.6" lengthAdjust="spacingAndGlyphs">沪深300</text>
<text x="213" y="45" font-size="20" fill="#ff2e2e" text-anchor="start" dominant-baseline="central" textLength="134.3" lengthAdjust="spacingAndGlyphs">MA10: 3356.72</text>
<text x="353.5" y="45.5" font-size="19.6" fill="#30e8f0" text-anchor="middle" dominant-baseline="central" style="font-family:'WenQuanYi Zen Hei',sans-serif">↓</text>
<text x="365.2" y="45" font-size="20" fill="#0098ff" text-anchor="start" dominant-baseline="central" textLength="134.2" lengthAdjust="spacingAndGlyphs">MA20: 3412.42</text>
<text x="504.8" y="45.5" font-size="19.6" fill="#30e8f0" text-anchor="middle" dominant-baseline="central" style="font-family:'WenQuanYi Zen Hei',sans-serif">↓</text>
<text x="516.8" y="45" font-size="20" fill="#138590" text-anchor="start" dominant-baseline="central" textLength="134.2" lengthAdjust="spacingAndGlyphs">MA40: 3497.79</text>
<text x="656.8" y="45.5" font-size="19.6" fill="#30e8f0" text-anchor="middle" dominant-baseline="central" style="font-family:'WenQuanYi Zen Hei',sans-serif">↓</text>
<text x="669" y="45" font-size="20" fill="#000" text-anchor="start" dominant-baseline="central" textLength="134.4" lengthAdjust="spacingAndGlyphs">MA60: 3539.94</text>
<text x="809" y="45.5" font-size="19.6" fill="#30e8f0" text-anchor="middle" dominant-baseline="central" style="font-family:'WenQuanYi Zen Hei',sans-serif">↓</text>
<text x="821.1" y="45" font-size="20" fill="#000" text-anchor="start" dominant-baseline="central" textLength="145.4" lengthAdjust="spacingAndGlyphs">MA120: 3689.77</text>
<text x="972.2" y="45.5" font-size="19.6" fill="#30e8f0" text-anchor="middle" dominant-baseline="central" style="font-family:'WenQuanYi Zen Hei',sans-serif">↓</text>
<text x="34.9" y="1106.7" font-size="19" fill="#000" text-anchor="start" dominant-baseline="central" textLength="81.5" lengthAdjust="spacingAndGlyphs">成交金额:</text>
<text x="122.4" y="1106.7" font-size="19" fill="#000" text-anchor="start" dominant-baseline="central" textLength="28.5" lengthAdjust="spacingAndGlyphs">0亿</text>
<text x="157.7" y="1107.2" font-size="18.62" fill="#30e8f0" text-anchor="middle" dominant-baseline="central" style="font-family:'WenQuanYi Zen Hei',sans-serif">↓</text>
<text x="168.6" y="1106.7" font-size="19" fill="#00e600" text-anchor="start" dominant-baseline="central" textLength="126.4" lengthAdjust="spacingAndGlyphs">MA10: 1489亿</text>
<text x="301.8" y="1107.2" font-size="18.62" fill="#30e8f0" text-anchor="middle" dominant-baseline="central" style="font-family:'WenQuanYi Zen Hei',sans-serif">↓</text>
<text x="314" y="1106.7" font-size="19" fill="#00e6f8" text-anchor="start" dominant-baseline="central" textLength="125" lengthAdjust="spacingAndGlyphs">MA20: 1541亿</text>
<text x="445.8" y="1107.2" font-size="18.62" fill="#30e8f0" text-anchor="middle" dominant-baseline="central" style="font-family:'WenQuanYi Zen Hei',sans-serif">↓</text>
<text x="457.2" y="1106.7" font-size="19" fill="#0098ff" text-anchor="start" dominant-baseline="central" textLength="125.8" lengthAdjust="spacingAndGlyphs">MA40: 1663亿</text>
<text x="588.4" y="1107.2" font-size="18.62" fill="#30e8f0" text-anchor="middle" dominant-baseline="central" style="font-family:'WenQuanYi Zen Hei',sans-serif">↓</text>
<text x="600.7" y="1106.7" font-size="19" fill="#ff7d19" text-anchor="start" dominant-baseline="central" textLength="126.8" lengthAdjust="spacingAndGlyphs">MA60: 1671亿</text>
<text x="733.4" y="1107.2" font-size="18.62" fill="#30e8f0" text-anchor="middle" dominant-baseline="central" style="font-family:'WenQuanYi Zen Hei',sans-serif">↓</text>
<text x="745" y="1106.7" font-size="19" fill="#000" text-anchor="start" dominant-baseline="central" textLength="138.2" lengthAdjust="spacingAndGlyphs">MA120: 1824亿</text>
<text x="888.6" y="1107.2" font-size="18.62" fill="#30e8f0" text-anchor="middle" dominant-baseline="central" style="font-family:'WenQuanYi Zen Hei',sans-serif">↓</text>
<text x="36.4" y="1332.5" font-size="19" fill="#ff2e2e" text-anchor="start" dominant-baseline="central" textLength="178.8" lengthAdjust="spacingAndGlyphs">KDJ(20,3,3) K: +3.22</text>
<text x="221.6" y="1333" font-size="18.62" fill="#30e8f0" text-anchor="middle" dominant-baseline="central" style="font-family:'WenQuanYi Zen Hei',sans-serif">↓</text>
<text x="233.8" y="1332.5" font-size="19" fill="#00e6f8" text-anchor="start" dominant-baseline="central" textLength="72.2" lengthAdjust="spacingAndGlyphs">D: +6.21</text>
<text x="314.1" y="1333" font-size="18.62" fill="#30e8f0" text-anchor="middle" dominant-baseline="central" style="font-family:'WenQuanYi Zen Hei',sans-serif">↓</text>
<text x="36.4" y="1566.8" font-size="19" fill="#bbb" text-anchor="start" dominant-baseline="central" textLength="133.5" lengthAdjust="spacingAndGlyphs">MACD(10,20,9)</text>
<text x="178.4" y="1566.8" font-size="19" fill="#008800" text-anchor="start" dominant-baseline="central" textLength="124.9" lengthAdjust="spacingAndGlyphs">MACD: -11.28</text>
<text x="308.6" y="1567.3" font-size="18.62" fill="#ff2e2e" text-anchor="middle" dominant-baseline="central" style="font-family:'WenQuanYi Zen Hei',sans-serif">↑</text>
<text x="321.4" y="1566.8" font-size="19" fill="#ff2e2e" text-anchor="start" dominant-baseline="central" textLength="105.7" lengthAdjust="spacingAndGlyphs">DIFF: -51.30</text>
<text x="433" y="1567.3" font-size="18.62" fill="#30e8f0" text-anchor="middle" dominant-baseline="central" style="font-family:'WenQuanYi Zen Hei',sans-serif">↓</text>
<text x="445.3" y="1566.8" font-size="19" fill="#00e6f8" text-anchor="start" dominant-baseline="central" textLength="103.5" lengthAdjust="spacingAndGlyphs">DEA: -45.66</text>
<text x="553.6" y="1567.3" font-size="18.62" fill="#30e8f0" text-anchor="middle" dominant-baseline="central" style="font-family:'WenQuanYi Zen Hei',sans-serif">↓</text>
<line x1="3380.5" y1="61" x2="3384.5" y2="61" stroke="#000" stroke-width="1.5"/>
<text x="3386" y="61" font-size="20" fill="#c00008" text-anchor="start" dominant-baseline="central">4107</text>
<line x1="3380.5" y1="175" x2="3384.5" y2="175" stroke="#000" stroke-width="1.5"/>
<text x="3386" y="175" font-size="20" fill="#c00008" text-anchor="start" dominant-baseline="central">4013</text>
<line x1="3380.5" y1="289" x2="3384.5" y2="289" stroke="#000" stroke-width="1.5"/>
<text x="3386" y="289" font-size="20" fill="#c00008" text-anchor="start" dominant-baseline="central">3918</text>
<line x1="3380.5" y1="404" x2="3384.5" y2="404" stroke="#000" stroke-width="1.5"/>
<text x="3386" y="404" font-size="20" fill="#c00008" text-anchor="start" dominant-baseline="central">3823</text>
<line x1="3380.5" y1="519" x2="3384.5" y2="519" stroke="#000" stroke-width="1.5"/>
<text x="3386" y="519" font-size="20" fill="#c00008" text-anchor="start" dominant-baseline="central">3729</text>
<line x1="3380.5" y1="633" x2="3384.5" y2="633" stroke="#000" stroke-width="1.5"/>
<text x="3386" y="633" font-size="20" fill="#c00008" text-anchor="start" dominant-baseline="central">3634</text>
<line x1="3380.5" y1="747" x2="3384.5" y2="747" stroke="#000" stroke-width="1.5"/>
<text x="3386" y="747" font-size="20" fill="#c00008" text-anchor="start" dominant-baseline="central">3540</text>
<line x1="3380.5" y1="862" x2="3384.5" y2="862" stroke="#000" stroke-width="1.5"/>
<text x="3386" y="862" font-size="20" fill="#c00008" text-anchor="start" dominant-baseline="central">3445</text>
<line x1="3380.5" y1="976" x2="3384.5" y2="976" stroke="#000" stroke-width="1.5"/>
<text x="3386" y="976" font-size="20" fill="#c00008" text-anchor="start" dominant-baseline="central">3350</text>
<line x1="3380.5" y1="1123" x2="3384.5" y2="1123" stroke="#000" stroke-width="1.5"/>
<text x="3386" y="1123" font-size="20" fill="#007d8f" text-anchor="start" dominant-baseline="central">3665</text>
<line x1="3380.5" y1="1188" x2="3384.5" y2="1188" stroke="#000" stroke-width="1.5"/>
<text x="3386" y="1188" font-size="20" fill="#007d8f" text-anchor="start" dominant-baseline="central">2453</text>
<line x1="3380.5" y1="1252" x2="3384.5" y2="1252" stroke="#000" stroke-width="1.5"/>
<text x="3386" y="1252" font-size="20" fill="#007d8f" text-anchor="start" dominant-baseline="central">1241</text>
<line x1="3380.5" y1="1349.5" x2="3384.5" y2="1349.5" stroke="#000" stroke-width="1.5"/>
<text x="3460" y="1349.5" font-size="20" fill="#c00008" text-anchor="end" dominant-baseline="central">+78.07</text>
<line x1="3380.5" y1="1416.5" x2="3384.5" y2="1416.5" stroke="#000" stroke-width="1.5"/>
<text x="3460" y="1416.5" font-size="20" fill="#c00008" text-anchor="end" dominant-baseline="central">+53.12</text>
<line x1="3380.5" y1="1484.5" x2="3384.5" y2="1484.5" stroke="#000" stroke-width="1.5"/>
<text x="3460" y="1484.5" font-size="20" fill="#c00008" text-anchor="end" dominant-baseline="central">+28.17</text>
<line x1="3380.5" y1="1583" x2="3384.5" y2="1583" stroke="#000" stroke-width="1.5"/>
<text x="3387" y="1583" font-size="20" fill="#c00008" text-anchor="start" dominant-baseline="central">+42.09</text>
<line x1="3380.5" y1="1630" x2="3384.5" y2="1630" stroke="#000" stroke-width="1.5"/>
<text x="3387" y="1630" font-size="20" fill="#c00008" text-anchor="start" dominant-baseline="central">+24.46</text>
<line x1="3380.5" y1="1694" x2="3384.5" y2="1694" stroke="#000" stroke-width="1.5"/>
<text x="3387" y="1694" font-size="20" fill="#c00008" text-anchor="start" dominant-baseline="central">+0</text>
<line x1="3380.5" y1="1758" x2="3384.5" y2="1758" stroke="#000" stroke-width="1.5"/>
<text x="3387" y="1758" font-size="20" fill="#008c00" text-anchor="start" dominant-baseline="central">-24.44</text>
<line x1="3380.5" y1="1824.5" x2="3384.5" y2="1824.5" stroke="#000" stroke-width="1.5"/>
<text x="3387" y="1824.5" font-size="20" fill="#008c00" text-anchor="start" dominant-baseline="central">-49.46</text>
<line x1="35" y1="1844" x2="35" y2="1850" stroke="#000" stroke-width="1.5"/>
<text x="36.5" y="1857" font-size="19" fill="#000" text-anchor="start" dominant-baseline="central">06</text>
<line x1="354.5" y1="1844" x2="354.5" y2="1850" stroke="#000" stroke-width="1.5"/>
<text x="356" y="1857" font-size="19" fill="#000" text-anchor="start" dominant-baseline="central">07</text>
<line x1="890" y1="1844" x2="890" y2="1850" stroke="#000" stroke-width="1.5"/>
<text x="891.5" y="1857" font-size="19" fill="#000" text-anchor="start" dominant-baseline="central">08</text>
<line x1="1476.5" y1="1844" x2="1476.5" y2="1850" stroke="#000" stroke-width="1.5"/>
<text x="1478" y="1857" font-size="19" fill="#000" text-anchor="start" dominant-baseline="central">09</text>
<line x1="1986.5" y1="1844" x2="1986.5" y2="1850" stroke="#000" stroke-width="1.5"/>
<text x="1988" y="1857" font-size="19" fill="#000" text-anchor="start" dominant-baseline="central">10</text>
<line x1="2420" y1="1844" x2="2420" y2="1850" stroke="#000" stroke-width="1.5"/>
<text x="2421.5" y="1857" font-size="19" fill="#000" text-anchor="start" dominant-baseline="central">11</text>
<line x1="2981" y1="1844" x2="2981" y2="1850" stroke="#000" stroke-width="1.5"/>
<text x="2982.5" y="1857" font-size="19" fill="#000" text-anchor="start" dominant-baseline="central">12</text>
<line x1="33" y1="1900" x2="3462" y2="1900" stroke="#666" stroke-width="2"/>
<rect x="33.5" y="1873.5" width="51" height="25" fill="#fff" stroke="#000" stroke-width="2"/>
<text x="59" y="1886.5" font-size="20" fill="#222" text-anchor="middle" dominant-baseline="central">设置</text>
<rect x="86.5" y="1873.5" width="133" height="25" fill="#fff" stroke="#000" stroke-width="2"/>
<path d="M96,1878 L132,1878 L132,1890 Q132,1895 127,1895 L93,1895 L93,1883 Q93,1878 96,1878 Z" fill="#5a0000"/>
<text x="112.5" y="1886.8" font-size="13" fill="#fff" text-anchor="middle" dominant-baseline="central">NEW</text>
<text x="179" y="1886.5" font-size="20" fill="#333" text-anchor="middle" dominant-baseline="central">指标广场</text>
<rect x="220" y="1873" width="80" height="26" fill="#000" stroke="none" stroke-width="1"/>
<text x="260" y="1886.5" font-size="20" fill="#fff" text-anchor="middle" dominant-baseline="central">MACD</text>
<rect x="300.5" y="1873.5" width="53" height="26" fill="#fff" stroke="#777" stroke-width="1.2"/>
<text x="327" y="1886.5" font-size="20" fill="#000" text-anchor="middle" dominant-baseline="central">KDJ</text>
<rect x="354.5" y="1873.5" width="50" height="26" fill="#fff" stroke="#777" stroke-width="1.2"/>
<text x="379.5" y="1886.5" font-size="20" fill="#000" text-anchor="middle" dominant-baseline="central">RSI</text>
<rect x="405.5" y="1873.5" width="66" height="26" fill="#fff" stroke="#777" stroke-width="1.2"/>
<text x="438.5" y="1886.5" font-size="20" fill="#000" text-anchor="middle" dominant-baseline="central">BOLL</text>
<rect x="473.5" y="1873.5" width="114" height="26" fill="#fff" stroke="#777" stroke-width="1.2"/>
<text x="530.5" y="1886.5" font-size="20" fill="#000" text-anchor="middle" dominant-baseline="central">沪深上涨数</text>
<rect x="588.5" y="1873.5" width="116" height="26" fill="#fff" stroke="#777" stroke-width="1.2"/>
<text x="646.5" y="1886.5" font-size="20" fill="#000" text-anchor="middle" dominant-baseline="central">沪深涨停数</text>
<rect x="705.5" y="1873.5" width="58" height="26" fill="#fff" stroke="#777" stroke-width="1.2"/>
<text x="734.5" y="1886.5" font-size="20" fill="#000" text-anchor="middle" dominant-baseline="central">主力</text>
<rect x="764.5" y="1873.5" width="68" height="26" fill="#fff" stroke="#777" stroke-width="1.2"/>
<text x="798.5" y="1886.5" font-size="20" fill="#000" text-anchor="middle" dominant-baseline="central">W&amp;R</text>
<rect x="833.5" y="1873.5" width="59" height="26" fill="#fff" stroke="#777" stroke-width="1.2"/>
<text x="863" y="1886.5" font-size="20" fill="#000" text-anchor="middle" dominant-baseline="central">DMI</text>
<rect x="893.5" y="1873.5" width="62" height="26" fill="#fff" stroke="#777" stroke-width="1.2"/>
<text x="924.5" y="1886.5" font-size="20" fill="#000" text-anchor="middle" dominant-baseline="central">BIAS</text>
<rect x="956.5" y="1873.5" width="50" height="26" fill="#fff" stroke="#777" stroke-width="1.2"/>
<text x="981.5" y="1886.5" font-size="20" fill="#000" text-anchor="middle" dominant-baseline="central">ASI</text>
<rect x="1007.5" y="1873.5" width="45" height="26" fill="#fff" stroke="#777" stroke-width="1.2"/>
<text x="1030" y="1886.5" font-size="20" fill="#000" text-anchor="middle" dominant-baseline="central">VR</text>
<rect x="1053.5" y="1873.5" width="69" height="26" fill="#fff" stroke="#777" stroke-width="1.2"/>
<text x="1088" y="1886.5" font-size="20" fill="#000" text-anchor="middle" dominant-baseline="central">ARBR</text>
<rect x="1123.5" y="1873.5" width="61" height="26" fill="#fff" stroke="#777" stroke-width="1.2"/>
<text x="1154" y="1886.5" font-size="20" fill="#000" text-anchor="middle" dominant-baseline="central">DPO</text>
<rect x="1185.5" y="1873.5" width="61" height="26" fill="#fff" stroke="#777" stroke-width="1.2"/>
<text x="1216" y="1886.5" font-size="20" fill="#000" text-anchor="middle" dominant-baseline="central">TRIX</text>
<rect x="1247.5" y="1873.5" width="85" height="26" fill="#fff" stroke="#777" stroke-width="1.2"/>
<text x="1290" y="1886.5" font-size="20" fill="#000" text-anchor="middle" dominant-baseline="central">新DMA</text>
<rect x="1333.5" y="1873.5" width="50" height="26" fill="#fff" stroke="#777" stroke-width="1.2"/>
<text x="1358.5" y="1886.5" font-size="20" fill="#000" text-anchor="middle" dominant-baseline="central">BBI</text>
<rect x="1384.5" y="1873.5" width="69" height="26" fill="#fff" stroke="#777" stroke-width="1.2"/>
<text x="1419" y="1886.5" font-size="20" fill="#000" text-anchor="middle" dominant-baseline="central">MTM</text>
<rect x="1454.5" y="1873.5" width="60" height="26" fill="#fff" stroke="#777" stroke-width="1.2"/>
<text x="1484.5" y="1886.5" font-size="20" fill="#000" text-anchor="middle" dominant-baseline="central">OBV</text>
<rect x="1515.5" y="1873.5" width="56" height="26" fill="#fff" stroke="#777" stroke-width="1.2"/>
<text x="1543.5" y="1886.5" font-size="20" fill="#000" text-anchor="middle" dominant-baseline="central">SAR</text>
<rect x="1572.5" y="1873.5" width="86" height="26" fill="#fff" stroke="#777" stroke-width="1.2"/>
<text x="1615.5" y="1886.5" font-size="20" fill="#000" text-anchor="middle" dominant-baseline="central">EXPMA</text>
<rect x="1659.5" y="1873.5" width="77" height="26" fill="#fff" stroke="#777" stroke-width="1.2"/>
<text x="1698" y="1886.5" font-size="20" fill="#000" text-anchor="middle" dominant-baseline="central">陆股通</text>
<rect x="1737.5" y="1873.5" width="77" height="26" fill="#fff" stroke="#777" stroke-width="1.2"/>
<text x="1776" y="1886.5" font-size="20" fill="#000" text-anchor="middle" dominant-baseline="central">沪股通</text>
<rect x="1815.5" y="1873.5" width="77" height="26" fill="#fff" stroke="#777" stroke-width="1.2"/>
<text x="1854" y="1886.5" font-size="20" fill="#000" text-anchor="middle" dominant-baseline="central">深股通</text>
<rect x="33.5" y="1902" width="97" height="30" fill="#fff" stroke="#666" stroke-width="1.5"/>
<text x="82" y="1916.5" font-size="20" fill="#222" text-anchor="middle" dominant-baseline="central">股市直播</text>
<rect x="131.5" y="1902" width="97" height="30" fill="#fff" stroke="#666" stroke-width="1.5"/>
<text x="180" y="1916.5" font-size="20" fill="#222" text-anchor="middle" dominant-baseline="central">投资机会</text>
<rect x="229.5" y="1902" width="99" height="30" fill="#fff" stroke="#666" stroke-width="1.5"/>
<text x="279" y="1916.5" font-size="20" fill="#222" text-anchor="middle" dominant-baseline="central">高手观点</text>
<rect x="3424" y="1906" width="16" height="2.5" fill="#333" stroke="none" stroke-width="1"/>
<path d="M3432,1909 L3441,1918 L3435.5,1918 L3435.5,1926 L3428.5,1926 L3428.5,1918 L3423,1918 Z" fill="#333"/>
<line x1="3462.5" y1="0" x2="3462.5" y2="1929" stroke="#666" stroke-width="2"/>
<text x="3646" y="27.5" font-size="37" fill="#1a9aaa" text-anchor="middle" dominant-baseline="central">沪深300 000300</text>
<text x="3488" y="67" font-size="39" fill="#000" text-anchor="start" dominant-baseline="central">3297.50</text>
<text x="3673" y="77" font-size="20" fill="#000" text-anchor="start" dominant-baseline="central">+0.00</text>
<text x="3758" y="77" font-size="20" fill="#000" text-anchor="start" dominant-baseline="central">+0.00%</text>
<line x1="3463" y1="97.5" x2="3838" y2="97.5" stroke="#000" stroke-width="2.5"/>
<text x="3467" y="123" font-size="20" fill="#000" text-anchor="start" dominant-baseline="central">委比</text>
<text x="3649" y="123" font-size="20" fill="#008c00" text-anchor="end" dominant-baseline="central">-55.14%</text>
<text x="3735" y="123" font-size="20" fill="#008c00" text-anchor="start" dominant-baseline="central" textLength="110" lengthAdjust="spacingAndGlyphs">-17431229</text>
<line x1="3465" y1="146.5" x2="3838" y2="146.5" stroke="#000" stroke-width="2.5"/>
<text x="3467" y="172" font-size="20" fill="#000" text-anchor="start" dominant-baseline="central">最新</text>
<text x="3650" y="172" font-size="20" fill="#000" text-anchor="end" dominant-baseline="central">3297.50</text>
<text x="3655" y="172" font-size="20" fill="#000" text-anchor="start" dominant-baseline="central">昨收</text>
<text x="3840" y="172" font-size="20" fill="#000" text-anchor="end" dominant-baseline="central">3297.50</text>
<text x="3467" y="220" font-size="20" fill="#000" text-anchor="start" dominant-baseline="central">涨跌</text>
<text x="3650" y="220" font-size="20" fill="#000" text-anchor="end" dominant-baseline="central">+0.00</text>
<text x="3655" y="220" font-size="20" fill="#000" text-anchor="start" dominant-baseline="central">开盘</text>
<text x="3840" y="220" font-size="20" fill="#000" text-anchor="end" dominant-baseline="central">--</text>
<text x="3467" y="268" font-size="20" fill="#000" text-anchor="start" dominant-baseline="central">涨幅</text>
<text x="3650" y="268" font-size="20" fill="#000" text-anchor="end" dominant-baseline="central">+0.00%</text>
<text x="3655" y="268" font-size="20" fill="#000" text-anchor="start" dominant-baseline="central">最高</text>
<text x="3840" y="268" font-size="20" fill="#000" text-anchor="end" dominant-baseline="central">--</text>
<text x="3467" y="318" font-size="20" fill="#000" text-anchor="start" dominant-baseline="central">振幅</text>
<text x="3650" y="318" font-size="20" fill="#007d8f" text-anchor="end" dominant-baseline="central">--</text>
<text x="3655" y="318" font-size="20" fill="#000" text-anchor="start" dominant-baseline="central">最低</text>
<text x="3840" y="318" font-size="20" fill="#000" text-anchor="end" dominant-baseline="central">--</text>
<text x="3467" y="365" font-size="20" fill="#000" text-anchor="start" dominant-baseline="central">现手</text>
<text x="3650" y="365" font-size="20" fill="#007d8f" text-anchor="end" dominant-baseline="central">--</text>
<text x="3655" y="365" font-size="20" fill="#000" text-anchor="start" dominant-baseline="central">量比</text>
<text x="3840" y="365" font-size="20" fill="#000" text-anchor="end" dominant-baseline="central">--</text>
<text x="3467" y="414" font-size="20" fill="#000" text-anchor="start" dominant-baseline="central">总手</text>
<text x="3650" y="414" font-size="20" fill="#000" text-anchor="end" dominant-baseline="central">--</text>
<text x="3655" y="414" font-size="20" fill="#000" text-anchor="start" dominant-baseline="central">金额</text>
<text x="3840" y="414" font-size="20" fill="#007d8f" text-anchor="end" dominant-baseline="central">0亿</text>
<line x1="3463" y1="437.5" x2="3838" y2="437.5" stroke="#000" stroke-width="2"/>
<text x="3467" y="455.5" font-size="20" fill="#000" text-anchor="start" dominant-baseline="central">总市值</text>
<text x="3840" y="455.5" font-size="20" fill="#007d8f" text-anchor="end" dominant-baseline="central">450399亿</text>
<text x="3467" y="487.5" font-size="20" fill="#000" text-anchor="start" dominant-baseline="central">流通市值</text>
<text x="3840" y="487.5" font-size="20" fill="#007d8f" text-anchor="end" dominant-baseline="central">340717亿</text>
<text x="3467" y="520" font-size="20" fill="#000" text-anchor="start" dominant-baseline="central">两市成交额(沪市+深市)</text>
<text x="3840" y="520" font-size="20" fill="#007d8f" text-anchor="end" dominant-baseline="central">0亿</text>
<line x1="3463" y1="535" x2="3838" y2="535" stroke="#000" stroke-width="2.5"/>
<line x1="3654" y1="535" x2="3654" y2="803" stroke="#000" stroke-width="2"/>
<text x="3467" y="559" font-size="20" fill="#000" text-anchor="start" dominant-baseline="central">委卖量</text>
<text x="3650" y="559" font-size="20" fill="#008c00" text-anchor="end" dominant-baseline="central">2452万</text>
<text x="3656" y="559" font-size="20" fill="#000" text-anchor="start" dominant-baseline="central">上涨家数</text>
<text x="3840" y="559" font-size="20" fill="#c00008" text-anchor="end" dominant-baseline="central">46</text>
<text x="3467" y="604" font-size="20" fill="#000" text-anchor="start" dominant-baseline="central">委买量</text>
<text x="3650" y="604" font-size="20" fill="#c00008" text-anchor="end" dominant-baseline="central">709.1万</text>
<text x="3656" y="604" font-size="20" fill="#000" text-anchor="start" dominant-baseline="central">平盘家数</text>
<text x="3840" y="604" font-size="20" fill="#007d8f" text-anchor="end" dominant-baseline="central">13</text>
<text x="3467" y="649" font-size="20" fill="#000" text-anchor="start" dominant-baseline="central">卖金额</text>
<text x="3650" y="649" font-size="20" fill="#007d8f" text-anchor="end" dominant-baseline="central">31.95亿</text>
<text x="3656" y="649" font-size="20" fill="#000" text-anchor="start" dominant-baseline="central">下跌家数</text>
<text x="3840" y="649" font-size="20" fill="#008c00" text-anchor="end" dominant-baseline="central">241</text>
<text x="3467" y="694" font-size="20" fill="#000" text-anchor="start" dominant-baseline="central">买金额</text>
<text x="3650" y="694" font-size="20" fill="#007d8f" text-anchor="end" dominant-baseline="central">23.17亿</text>
<text x="3656" y="694" font-size="20" fill="#000" text-anchor="start" dominant-baseline="central">市盈</text>
<text x="3840" y="694" font-size="20" fill="#000" text-anchor="end" dominant-baseline="central">10.16</text>
<text x="3467" y="737" font-size="20" fill="#000" text-anchor="start" dominant-baseline="central">换手</text>
<text x="3650" y="737" font-size="20" fill="#007d8f" text-anchor="end" dominant-baseline="central">--</text>
<text x="3656" y="737" font-size="20" fill="#000" text-anchor="start" dominant-baseline="central">市盈(动)</text>
<text x="3840" y="737" font-size="20" fill="#000" text-anchor="end" dominant-baseline="central">9.50</text>
<text x="3467" y="782" font-size="20" fill="#000" text-anchor="start" dominant-baseline="central">均价</text>
<text x="3650" y="782" font-size="20" fill="#000" text-anchor="end" dominant-baseline="central">--</text>
<text x="3656" y="782" font-size="20" fill="#000" text-anchor="start" dominant-baseline="central">市净率</text>
<text x="3840" y="782" font-size="20" fill="#000" text-anchor="end" dominant-baseline="central">1.03</text>
<line x1="3463" y1="803" x2="3838" y2="803" stroke="#000" stroke-width="2"/>
<text x="3467" y="852" font-size="20" fill="#000" text-anchor="start" dominant-baseline="central">现价</text>
<text x="3568" y="852" font-size="20" fill="#000" text-anchor="start" dominant-baseline="central" textLength="80" lengthAdjust="spacingAndGlyphs">3297.50</text>
<text x="3689" y="852" font-size="20" fill="#000" text-anchor="start" dominant-baseline="central" textLength="150" lengthAdjust="spacingAndGlyphs">2023-12-21,四</text>
<line x1="3541" y1="941.9" x2="3766" y2="941.9" stroke="#666" stroke-width="2"/>
<line x1="3541" y1="980.8" x2="3766" y2="980.8" stroke="#666" stroke-width="2"/>
<line x1="3541" y1="1019.8" x2="3766" y2="1019.8" stroke="#666" stroke-width="2"/>
<line x1="3541" y1="1058.7" x2="3766" y2="1058.7" stroke="#666" stroke-width="2"/>
<line x1="3541" y1="1097.6" x2="3766" y2="1097.6" stroke="#666" stroke-width="2"/>
<line x1="3541" y1="1136.5" x2="3766" y2="1136.5" stroke="#666" stroke-width="2"/>
<line x1="3541" y1="1175.4" x2="3766" y2="1175.4" stroke="#666" stroke-width="2"/>
<line x1="3541" y1="1214.4" x2="3766" y2="1214.4" stroke="#666" stroke-width="2"/>
<line x1="3541" y1="1253.3" x2="3766" y2="1253.3" stroke="#666" stroke-width="4"/>
<line x1="3541" y1="1292.2" x2="3766" y2="1292.2" stroke="#666" stroke-width="2"/>
<line x1="3541" y1="1331.1" x2="3766" y2="1331.1" stroke="#666" stroke-width="2"/>
<line x1="3541" y1="1370" x2="3766" y2="1370" stroke="#666" stroke-width="2"/>
<line x1="3541" y1="1409" x2="3766" y2="1409" stroke="#666" stroke-width="2"/>
<line x1="3541" y1="1447.9" x2="3766" y2="1447.9" stroke="#666" stroke-width="2"/>
<line x1="3541" y1="1486.8" x2="3766" y2="1486.8" stroke="#666" stroke-width="2"/>
<line x1="3541" y1="1525.7" x2="3766" y2="1525.7" stroke="#666" stroke-width="2"/>
<line x1="3541" y1="1564.6" x2="3766" y2="1564.6" stroke="#666" stroke-width="2"/>
<line x1="3541" y1="1645.6" x2="3766" y2="1645.6" stroke="#666" stroke-width="2"/>
<line x1="3541" y1="1687.6" x2="3766" y2="1687.6" stroke="#666" stroke-width="2"/>
<line x1="3541" y1="1729.7" x2="3766" y2="1729.7" stroke="#666" stroke-width="2"/>
<line x1="3541" y1="1771.8" x2="3766" y2="1771.8" stroke="#666" stroke-width="2"/>
<line x1="3541" y1="1813.8" x2="3766" y2="1813.8" stroke="#666" stroke-width="2"/>
<line x1="3541" y1="1855.9" x2="3766" y2="1855.9" stroke="#666" stroke-width="2"/>
<line x1="3571" y1="903" x2="3571" y2="1898" stroke="#555" stroke-width="1.2" stroke-dasharray="1.5 3"/>
<line x1="3624" y1="903" x2="3624" y2="1898" stroke="#555" stroke-width="1.2" stroke-dasharray="1.5 3"/>
<line x1="3680" y1="903" x2="3680" y2="1898" stroke="#555" stroke-width="1.2" stroke-dasharray="1.5 3"/>
<line x1="3735" y1="903" x2="3735" y2="1898" stroke="#555" stroke-width="1.2" stroke-dasharray="1.5 3"/>
<line x1="3597" y1="903" x2="3597" y2="1898" stroke="#666" stroke-width="2"/>
<line x1="3653" y1="903" x2="3653" y2="1898" stroke="#666" stroke-width="4"/>
<line x1="3708" y1="903" x2="3708" y2="1898" stroke="#666" stroke-width="2"/>
<line x1="3763" y1="1603.5" x2="3763" y2="1898" stroke="#666" stroke-width="2"/>
<rect x="3541" y="903" width="222" height="700.5" fill="none" stroke="#000" stroke-width="2.5"/>
<line x1="3541" y1="1603" x2="3541" y2="1899" stroke="#000" stroke-width="2.5"/>
<line x1="3541" y1="1899" x2="3766" y2="1899" stroke="#555" stroke-width="2"/>
<text x="3537" y="904" font-size="20" fill="#c00008" text-anchor="end" dominant-baseline="central">3298</text>
<text x="3767" y="904" font-size="20" fill="#c00008" text-anchor="start" dominant-baseline="central">0.00%</text>
<text x="3537" y="942.9" font-size="20" fill="#c00008" text-anchor="end" dominant-baseline="central">3298</text>
<text x="3767" y="942.9" font-size="20" fill="#c00008" text-anchor="start" dominant-baseline="central">0.00%</text>
<text x="3537" y="981.8" font-size="20" fill="#c00008" text-anchor="end" dominant-baseline="central">3298</text>
<text x="3767" y="981.8" font-size="20" fill="#c00008" text-anchor="start" dominant-baseline="central">0.00%</text>
<text x="3537" y="1020.8" font-size="20" fill="#c00008" text-anchor="end" dominant-baseline="central">3298</text>
<text x="3767" y="1020.8" font-size="20" fill="#c00008" text-anchor="start" dominant-baseline="central">0.00%</text>
<text x="3537" y="1059.7" font-size="20" fill="#c00008" text-anchor="end" dominant-baseline="central">3298</text>
<text x="3767" y="1059.7" font-size="20" fill="#c00008" text-anchor="start" dominant-baseline="central">0.00%</text>
<text x="3537" y="1098.6" font-size="20" fill="#c00008" text-anchor="end" dominant-baseline="central">3298</text>
<text x="3767" y="1098.6" font-size="20" fill="#c00008" text-anchor="start" dominant-baseline="central">0.00%</text>
<text x="3537" y="1137.5" font-size="20" fill="#c00008" text-anchor="end" dominant-baseline="central">3298</text>
<text x="3767" y="1137.5" font-size="20" fill="#c00008" text-anchor="start" dominant-baseline="central">0.00%</text>
<text x="3537" y="1176.4" font-size="20" fill="#c00008" text-anchor="end" dominant-baseline="central">3298</text>
<text x="3767" y="1176.4" font-size="20" fill="#c00008" text-anchor="start" dominant-baseline="central">0.00%</text>
<text x="3537" y="1215.4" font-size="20" fill="#c00008" text-anchor="end" dominant-baseline="central">3298</text>
<text x="3767" y="1215.4" font-size="20" fill="#c00008" text-anchor="start" dominant-baseline="central">0.00%</text>
<text x="3537" y="1254.3" font-size="20" fill="#000" text-anchor="end" dominant-baseline="central">3298</text>
<text x="3767" y="1254.3" font-size="20" fill="#000" text-anchor="start" dominant-baseline="central">0.00%</text>
<text x="3537" y="1293.2" font-size="20" fill="#008c00" text-anchor="end" dominant-baseline="central">3297</text>
<text x="3767" y="1293.2" font-size="20" fill="#008c00" text-anchor="start" dominant-baseline="central">0.00%</text>
<text x="3537" y="1332.1" font-size="20" fill="#008c00" text-anchor="end" dominant-baseline="central">3297</text>
<text x="3767" y="1332.1" font-size="20" fill="#008c00" text-anchor="start" dominant-baseline="central">0.00%</text>
<text x="3537" y="1371" font-size="20" fill="#008c00" text-anchor="end" dominant-baseline="central">3297</text>
<text x="3767" y="1371" font-size="20" fill="#008c00" text-anchor="start" dominant-baseline="central">0.00%</text>
<text x="3537" y="1410" font-size="20" fill="#008c00" text-anchor="end" dominant-baseline="central">3297</text>
<text x="3767" y="1410" font-size="20" fill="#008c00" text-anchor="start" dominant-baseline="central">0.00%</text>
<text x="3537" y="1448.9" font-size="20" fill="#008c00" text-anchor="end" dominant-baseline="central">3297</text>
<text x="3767" y="1448.9" font-size="20" fill="#008c00" text-anchor="start" dominant-baseline="central">0.00%</text>
<text x="3537" y="1487.8" font-size="20" fill="#008c00" text-anchor="end" dominant-baseline="central">3297</text>
<text x="3767" y="1487.8" font-size="20" fill="#008c00" text-anchor="start" dominant-baseline="central">0.00%</text>
<text x="3537" y="1526.7" font-size="20" fill="#008c00" text-anchor="end" dominant-baseline="central">3297</text>
<text x="3767" y="1526.7" font-size="20" fill="#008c00" text-anchor="start" dominant-baseline="central">0.00%</text>
<text x="3537" y="1565.6" font-size="20" fill="#008c00" text-anchor="end" dominant-baseline="central">3297</text>
<text x="3767" y="1565.6" font-size="20" fill="#008c00" text-anchor="start" dominant-baseline="central">0.00%</text>
<text x="3537" y="1604.6" font-size="20" fill="#008c00" text-anchor="end" dominant-baseline="central">3297</text>
<text x="3767" y="1604.6" font-size="20" fill="#008c00" text-anchor="start" dominant-baseline="central">0.00%</text>
<text x="3538" y="1646.6" font-size="20" fill="#007d8f" text-anchor="end" dominant-baseline="central">0</text>
<text x="3538" y="1688.6" font-size="20" fill="#007d8f" text-anchor="end" dominant-baseline="central">0</text>
<text x="3538" y="1730.7" font-size="20" fill="#007d8f" text-anchor="end" dominant-baseline="central">0</text>
<text x="3538" y="1772.8" font-size="20" fill="#007d8f" text-anchor="end" dominant-baseline="central">-0</text>
<text x="3538" y="1814.8" font-size="20" fill="#007d8f" text-anchor="end" dominant-baseline="central">-0</text>
<text x="3538" y="1856.9" font-size="20" fill="#007d8f" text-anchor="end" dominant-baseline="central">-0</text>
<line x1="3463" y1="1901" x2="3838" y2="1901" stroke="#000" stroke-width="2"/>
<rect x="3466" y="1903.5" width="56" height="26" fill="#000" stroke="none" stroke-width="1"/>
<text x="3494" y="1917" font-size="20" fill="#fff" text-anchor="middle" dominant-baseline="central">分时</text>
<rect x="3524" y="1903.5" width="57.5" height="26" fill="#fff" stroke="#777" stroke-width="1.5"/>
<text x="3553" y="1917" font-size="20" fill="#000" text-anchor="middle" dominant-baseline="central">筹码</text>
<rect x="3583" y="1903.5" width="58" height="26" fill="#fff" stroke="#777" stroke-width="1.5"/>
<text x="3612" y="1917" font-size="20" fill="#000" text-anchor="middle" dominant-baseline="central">火焰</text>
<g fill="none" stroke="#444" stroke-width="1.4"><path d="M3177,45 Q3188,33 3199,45 Q3188,57 3177,45 Z"/><circle cx="3188" cy="45" r="3.5"/><path d="M3211,48 L3213,53 Q3216,56 3221,56 Q3226,55 3226,49 L3226,40 M3212,47 Q3210,44 3212,43 L3215,46 L3215,38 M3218,46 L3218,36 M3221,46 L3221,36 M3224,46 L3224,38"/><path d="M3241,41 L3252,41 Q3258,41 3258,47 Q3258,53 3252,53 L3241,53"/><path d="M3239,41 L3243,38 L3243,44 Z" fill="#444"/><circle cx="3273" cy="51" r="3"/><circle cx="3283" cy="51" r="3"/><path d="M3272,37 L3281,48 M3284,37 L3275,48"/><rect x="3301" y="44" width="14" height="10"/><path d="M3304,44 L3304,40 Q3304,35 3309,35 Q3313,35 3313,39"/><circle cx="3339" cy="45" r="9"/><path d="M3334,45 L3344,45 M3339,40 L3339,50"/><circle cx="3368" cy="45" r="9"/><path d="M3363,45 L3373,45"/></g>
</svg></body></html>
